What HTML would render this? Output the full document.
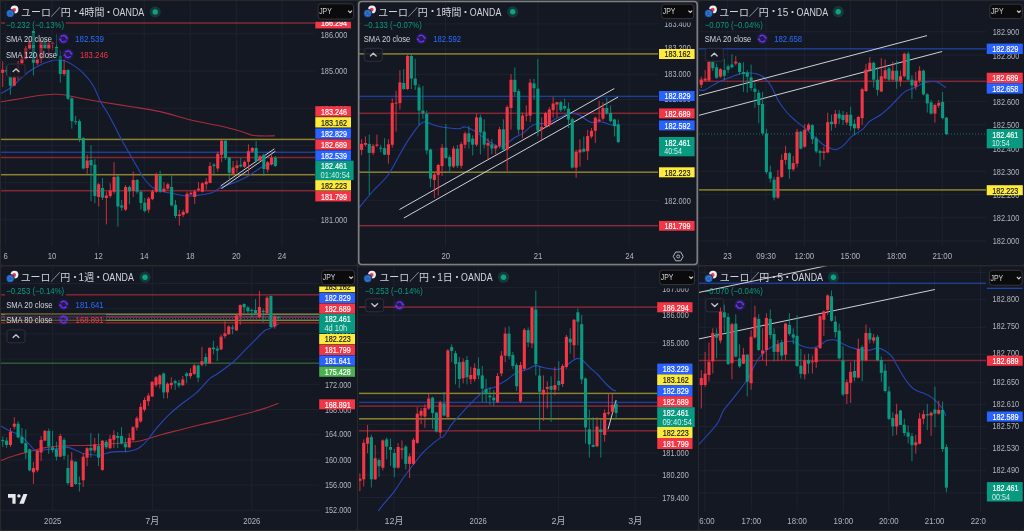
<!DOCTYPE html>
<html><head><meta charset="utf-8"><style>
html,body{margin:0;padding:0;background:#29292b;width:1024px;height:531px;overflow:hidden}
svg{display:block}
text{font-family:'Liberation Sans', 'Noto Sans CJK JP', sans-serif}
</style></head><body>
<svg width="1024" height="531" viewBox="0 0 1024 531">
<rect x="0" y="0" width="1024" height="531" fill="#29292b"/>
<rect x="1" y="1" width="356" height="264" rx="2" fill="#141823"/>
<rect x="358" y="1" width="340" height="264" rx="2" fill="#141823"/>
<rect x="699" y="1" width="325" height="264" rx="2" fill="#141823"/>
<rect x="1" y="266.5" width="356" height="263.5" rx="2" fill="#141823"/>
<rect x="358" y="266.5" width="340" height="263.5" rx="2" fill="#141823"/>
<rect x="699" y="266.5" width="325" height="263.5" rx="2" fill="#141823"/>
<clipPath id="c1"><rect x="1" y="1" width="314" height="245"/></clipPath>
<g clip-path="url(#c1)">
<line x1="1" y1="33.8" x2="315" y2="33.8" stroke="#1e2230" stroke-width="1" opacity="1"/>
<line x1="1" y1="71" x2="315" y2="71" stroke="#1e2230" stroke-width="1" opacity="1"/>
<line x1="1" y1="108.2" x2="315" y2="108.2" stroke="#1e2230" stroke-width="1" opacity="1"/>
<line x1="1" y1="145.4" x2="315" y2="145.4" stroke="#1e2230" stroke-width="1" opacity="1"/>
<line x1="1" y1="182.6" x2="315" y2="182.6" stroke="#1e2230" stroke-width="1" opacity="1"/>
<line x1="1" y1="219.8" x2="315" y2="219.8" stroke="#1e2230" stroke-width="1" opacity="1"/>
<line x1="5.6" y1="1" x2="5.6" y2="246" stroke="#1e2230" stroke-width="1" opacity="1"/>
<line x1="52" y1="1" x2="52" y2="246" stroke="#1e2230" stroke-width="1" opacity="1"/>
<line x1="98.5" y1="1" x2="98.5" y2="246" stroke="#1e2230" stroke-width="1" opacity="1"/>
<line x1="144.2" y1="1" x2="144.2" y2="246" stroke="#1e2230" stroke-width="1" opacity="1"/>
<line x1="190.2" y1="1" x2="190.2" y2="246" stroke="#1e2230" stroke-width="1" opacity="1"/>
<line x1="236.3" y1="1" x2="236.3" y2="246" stroke="#1e2230" stroke-width="1" opacity="1"/>
<line x1="282" y1="1" x2="282" y2="246" stroke="#1e2230" stroke-width="1" opacity="1"/>
<rect x="1" y="22.25" width="314" height="1.5" fill="#f23645" opacity="0.5"/>
<rect x="1" y="138.65" width="314" height="1.5" fill="#ffeb3b" opacity="0.5"/>
<rect x="1" y="151.55" width="314" height="1.5" fill="#2962ff" opacity="0.5"/>
<rect x="1" y="156.75" width="314" height="1.5" fill="#f23645" opacity="0.5"/>
<rect x="1" y="173.95" width="314" height="1.5" fill="#ffeb3b" opacity="0.5"/>
<rect x="1" y="189.95" width="314" height="1.5" fill="#f23645" opacity="0.5"/>
<path d="M1.00,101.80 C4.17,101.28 13.67,99.75 20.00,98.70 C26.33,97.65 33.33,96.23 39.00,95.50 C44.67,94.77 49.83,94.42 54.00,94.30 C58.17,94.18 60.00,94.23 64.00,94.80 C68.00,95.37 72.00,96.55 78.00,97.70 C84.00,98.85 91.33,100.23 100.00,101.70 C108.67,103.17 120.00,104.85 130.00,106.50 C140.00,108.15 149.83,109.35 160.00,111.60 C170.17,113.85 181.50,117.72 191.00,120.00 C200.50,122.28 209.17,123.55 217.00,125.30 C224.83,127.05 232.17,128.85 238.00,130.50 C243.83,132.15 248.00,134.30 252.00,135.20 C256.00,136.10 258.17,135.80 262.00,135.90 C265.83,136.00 272.83,135.82 275.00,135.80" fill="none" stroke="#a82c3a" stroke-width="1.1" opacity="1" stroke-linejoin="round"/>
<path d="M1.00,93.40 C2.47,92.57 6.70,90.70 9.80,88.40 C12.90,86.10 16.33,82.45 19.60,79.60 C22.87,76.75 26.13,73.67 29.40,71.30 C32.67,68.93 35.93,67.03 39.20,65.40 C42.47,63.77 46.37,62.40 49.00,61.50 C51.63,60.60 52.55,60.17 55.00,60.00 C57.45,59.83 60.62,59.60 63.70,60.50 C66.78,61.40 70.23,63.28 73.50,65.40 C76.77,67.52 80.03,69.85 83.30,73.20 C86.57,76.55 90.22,80.73 93.10,85.50 C95.98,90.27 98.28,97.38 100.60,101.80 C102.92,106.22 104.82,108.25 107.00,112.00 C109.18,115.75 111.33,119.80 113.70,124.30 C116.07,128.80 118.55,134.08 121.20,139.00 C123.85,143.92 126.80,148.88 129.60,153.80 C132.40,158.72 135.53,164.30 138.00,168.50 C140.47,172.70 141.93,175.83 144.40,179.00 C146.87,182.17 149.63,185.38 152.80,187.50 C155.97,189.62 159.88,190.65 163.40,191.70 C166.92,192.75 170.03,193.08 173.90,193.80 C177.77,194.52 182.25,195.80 186.60,196.00 C190.95,196.20 195.77,195.53 200.00,195.00 C204.23,194.47 208.52,194.05 212.00,192.80 C215.48,191.55 216.62,189.43 220.90,187.50 C225.18,185.57 233.13,183.13 237.70,181.20 C242.27,179.27 244.78,177.93 248.30,175.90 C251.82,173.87 255.98,170.75 258.80,169.00 C261.62,167.25 262.55,166.37 265.20,165.40 C267.85,164.43 273.12,163.57 274.70,163.20" fill="none" stroke="#2646b8" stroke-width="1.1" opacity="1" stroke-linejoin="round"/>
<line x1="220.6" y1="186.0" x2="274.4" y2="148.8" stroke="#cfd0d4" stroke-width="1"/>
<line x1="221.4" y1="188.6" x2="275.4" y2="151.2" stroke="#cfd0d4" stroke-width="1"/>
<line x1="2.70" y1="61.4" x2="2.70" y2="87" stroke="#f23645" stroke-width="1" opacity="0.8"/>
<rect x="1.15" y="69.7" width="3.1" height="3.10" fill="#f23645"/>
<line x1="6.54" y1="66" x2="6.54" y2="75" stroke="#089981" stroke-width="1" opacity="0.8"/>
<rect x="4.99" y="70" width="3.1" height="1.50" fill="#089981"/>
<line x1="10.38" y1="69.8" x2="10.38" y2="94.8" stroke="#089981" stroke-width="1" opacity="0.8"/>
<rect x="8.83" y="76.7" width="3.1" height="9.00" fill="#089981"/>
<line x1="14.22" y1="72.7" x2="14.22" y2="86" stroke="#f23645" stroke-width="1" opacity="0.8"/>
<rect x="12.67" y="77.2" width="3.1" height="8.50" fill="#f23645"/>
<line x1="18.06" y1="61" x2="18.06" y2="80" stroke="#f23645" stroke-width="1" opacity="0.8"/>
<rect x="16.51" y="65" width="3.1" height="8.00" fill="#f23645"/>
<line x1="21.90" y1="55.8" x2="21.90" y2="65" stroke="#f23645" stroke-width="1" opacity="0.8"/>
<rect x="20.35" y="58.3" width="3.1" height="4.90" fill="#f23645"/>
<line x1="25.74" y1="46" x2="25.74" y2="60" stroke="#f23645" stroke-width="1" opacity="0.8"/>
<rect x="24.19" y="48" width="3.1" height="11.00" fill="#f23645"/>
<line x1="29.58" y1="39" x2="29.58" y2="50" stroke="#f23645" stroke-width="1" opacity="0.8"/>
<rect x="28.03" y="41" width="3.1" height="8.00" fill="#f23645"/>
<line x1="33.42" y1="28" x2="33.42" y2="75.5" stroke="#089981" stroke-width="1" opacity="0.8"/>
<rect x="31.87" y="31" width="3.1" height="31.70" fill="#089981"/>
<line x1="37.26" y1="54" x2="37.26" y2="65" stroke="#f23645" stroke-width="1" opacity="0.8"/>
<rect x="35.71" y="58.8" width="3.1" height="4.40" fill="#f23645"/>
<line x1="41.10" y1="38.7" x2="41.10" y2="63.2" stroke="#f23645" stroke-width="1" opacity="0.8"/>
<rect x="39.55" y="40.6" width="3.1" height="18.70" fill="#f23645"/>
<line x1="44.94" y1="38.7" x2="44.94" y2="49" stroke="#089981" stroke-width="1" opacity="0.8"/>
<rect x="43.39" y="41.1" width="3.1" height="7.40" fill="#089981"/>
<line x1="48.78" y1="41.1" x2="48.78" y2="58.8" stroke="#f23645" stroke-width="1" opacity="0.8"/>
<rect x="47.23" y="43" width="3.1" height="6.00" fill="#f23645"/>
<line x1="52.62" y1="41.6" x2="52.62" y2="50.4" stroke="#f23645" stroke-width="1" opacity="0.8"/>
<rect x="51.07" y="42.6" width="3.1" height="1.40" fill="#f23645"/>
<line x1="56.46" y1="34.3" x2="56.46" y2="56.8" stroke="#089981" stroke-width="1" opacity="0.8"/>
<rect x="54.91" y="47" width="3.1" height="8.80" fill="#089981"/>
<line x1="60.30" y1="50.4" x2="60.30" y2="82.5" stroke="#089981" stroke-width="1" opacity="0.8"/>
<rect x="58.75" y="55.8" width="3.1" height="18.20" fill="#089981"/>
<line x1="64.14" y1="59.3" x2="64.14" y2="76" stroke="#f23645" stroke-width="1" opacity="0.8"/>
<rect x="62.59" y="70" width="3.1" height="4.00" fill="#f23645"/>
<line x1="67.98" y1="69" x2="67.98" y2="100" stroke="#089981" stroke-width="1" opacity="0.8"/>
<rect x="66.43" y="70" width="3.1" height="28.80" fill="#089981"/>
<line x1="71.82" y1="96.9" x2="71.82" y2="128.7" stroke="#089981" stroke-width="1" opacity="0.8"/>
<rect x="70.27" y="98.3" width="3.1" height="22.90" fill="#089981"/>
<line x1="75.66" y1="116" x2="75.66" y2="124.8" stroke="#089981" stroke-width="1" opacity="0.8"/>
<rect x="74.11" y="121.2" width="3.1" height="1.00" fill="#089981"/>
<line x1="79.50" y1="119.4" x2="79.50" y2="142" stroke="#089981" stroke-width="1" opacity="0.8"/>
<rect x="77.95" y="121.2" width="3.1" height="17.30" fill="#089981"/>
<line x1="83.34" y1="137" x2="83.34" y2="169.6" stroke="#089981" stroke-width="1" opacity="0.8"/>
<rect x="81.79" y="138" width="3.1" height="30.50" fill="#089981"/>
<line x1="87.18" y1="154.8" x2="87.18" y2="173.8" stroke="#f23645" stroke-width="1" opacity="0.8"/>
<rect x="85.63" y="160.5" width="3.1" height="7.50" fill="#f23645"/>
<line x1="91.02" y1="145.3" x2="91.02" y2="201.2" stroke="#089981" stroke-width="1" opacity="0.8"/>
<rect x="89.47" y="160" width="3.1" height="5.40" fill="#089981"/>
<line x1="94.86" y1="159" x2="94.86" y2="203.3" stroke="#089981" stroke-width="1" opacity="0.8"/>
<rect x="93.31" y="164.7" width="3.1" height="31.30" fill="#089981"/>
<line x1="98.70" y1="182.9" x2="98.70" y2="206.5" stroke="#f23645" stroke-width="1" opacity="0.8"/>
<rect x="97.15" y="184.3" width="3.1" height="12.70" fill="#f23645"/>
<line x1="102.54" y1="178" x2="102.54" y2="200" stroke="#089981" stroke-width="1" opacity="0.8"/>
<rect x="100.99" y="188" width="3.1" height="9.60" fill="#089981"/>
<line x1="106.38" y1="191.7" x2="106.38" y2="224.4" stroke="#f23645" stroke-width="1" opacity="0.8"/>
<rect x="104.83" y="195.5" width="3.1" height="2.50" fill="#f23645"/>
<line x1="110.22" y1="183.3" x2="110.22" y2="198" stroke="#f23645" stroke-width="1" opacity="0.8"/>
<rect x="108.67" y="190.7" width="3.1" height="5.30" fill="#f23645"/>
<line x1="114.06" y1="162.2" x2="114.06" y2="193.8" stroke="#f23645" stroke-width="1" opacity="0.8"/>
<rect x="112.51" y="177" width="3.1" height="14.70" fill="#f23645"/>
<line x1="117.90" y1="174.9" x2="117.90" y2="226.5" stroke="#089981" stroke-width="1" opacity="0.8"/>
<rect x="116.35" y="176.5" width="3.1" height="30.00" fill="#089981"/>
<line x1="121.74" y1="200" x2="121.74" y2="210.7" stroke="#089981" stroke-width="1" opacity="0.8"/>
<rect x="120.19" y="205.4" width="3.1" height="2.20" fill="#089981"/>
<line x1="125.58" y1="185" x2="125.58" y2="211" stroke="#f23645" stroke-width="1" opacity="0.8"/>
<rect x="124.03" y="187" width="3.1" height="22.70" fill="#f23645"/>
<line x1="129.42" y1="185.4" x2="129.42" y2="204.4" stroke="#089981" stroke-width="1" opacity="0.8"/>
<rect x="127.87" y="187" width="3.1" height="4.30" fill="#089981"/>
<line x1="133.26" y1="171.7" x2="133.26" y2="197" stroke="#f23645" stroke-width="1" opacity="0.8"/>
<rect x="131.71" y="180" width="3.1" height="10.70" fill="#f23645"/>
<line x1="137.10" y1="179" x2="137.10" y2="193.8" stroke="#089981" stroke-width="1" opacity="0.8"/>
<rect x="135.55" y="180" width="3.1" height="11.70" fill="#089981"/>
<line x1="140.94" y1="190.7" x2="140.94" y2="209.7" stroke="#089981" stroke-width="1" opacity="0.8"/>
<rect x="139.39" y="191.7" width="3.1" height="11.30" fill="#089981"/>
<line x1="144.78" y1="198" x2="144.78" y2="212.4" stroke="#089981" stroke-width="1" opacity="0.8"/>
<rect x="143.23" y="202.7" width="3.1" height="8.40" fill="#089981"/>
<line x1="148.62" y1="197" x2="148.62" y2="212.8" stroke="#f23645" stroke-width="1" opacity="0.8"/>
<rect x="147.07" y="198.5" width="3.1" height="11.20" fill="#f23645"/>
<line x1="152.46" y1="189.6" x2="152.46" y2="200.2" stroke="#f23645" stroke-width="1" opacity="0.8"/>
<rect x="150.91" y="191.3" width="3.1" height="7.80" fill="#f23645"/>
<line x1="156.30" y1="172.7" x2="156.30" y2="192.8" stroke="#f23645" stroke-width="1" opacity="0.8"/>
<rect x="154.75" y="174.4" width="3.1" height="17.30" fill="#f23645"/>
<line x1="160.14" y1="170.6" x2="160.14" y2="192.8" stroke="#089981" stroke-width="1" opacity="0.8"/>
<rect x="158.59" y="175.3" width="3.1" height="16.40" fill="#089981"/>
<line x1="163.98" y1="182.2" x2="163.98" y2="192.2" stroke="#f23645" stroke-width="1" opacity="0.8"/>
<rect x="162.43" y="188.6" width="3.1" height="3.10" fill="#f23645"/>
<line x1="167.82" y1="183" x2="167.82" y2="190" stroke="#f23645" stroke-width="1" opacity="0.8"/>
<rect x="166.27" y="184.3" width="3.1" height="4.30" fill="#f23645"/>
<line x1="171.66" y1="175.3" x2="171.66" y2="206.5" stroke="#089981" stroke-width="1" opacity="0.8"/>
<rect x="170.11" y="187" width="3.1" height="18.40" fill="#089981"/>
<line x1="175.50" y1="200" x2="175.50" y2="218.1" stroke="#089981" stroke-width="1" opacity="0.8"/>
<rect x="173.95" y="204.8" width="3.1" height="11.20" fill="#089981"/>
<line x1="179.34" y1="209.7" x2="179.34" y2="225.5" stroke="#f23645" stroke-width="1" opacity="0.8"/>
<rect x="177.79" y="214.5" width="3.1" height="1.50" fill="#f23645"/>
<line x1="183.18" y1="209.7" x2="183.18" y2="217" stroke="#f23645" stroke-width="1" opacity="0.8"/>
<rect x="181.63" y="211.8" width="3.1" height="3.20" fill="#f23645"/>
<line x1="187.02" y1="191.7" x2="187.02" y2="214" stroke="#f23645" stroke-width="1" opacity="0.8"/>
<rect x="185.47" y="193.8" width="3.1" height="19.00" fill="#f23645"/>
<line x1="190.86" y1="191.3" x2="190.86" y2="195" stroke="#f23645" stroke-width="1" opacity="0.8"/>
<rect x="189.31" y="192.8" width="3.1" height="1.50" fill="#f23645"/>
<line x1="194.70" y1="189.6" x2="194.70" y2="204" stroke="#f23645" stroke-width="1" opacity="0.8"/>
<rect x="193.15" y="191.3" width="3.1" height="5.70" fill="#f23645"/>
<line x1="198.54" y1="182.2" x2="198.54" y2="191.7" stroke="#f23645" stroke-width="1" opacity="0.8"/>
<rect x="196.99" y="188.6" width="3.1" height="1.40" fill="#f23645"/>
<line x1="202.38" y1="182.2" x2="202.38" y2="192.5" stroke="#f23645" stroke-width="1" opacity="0.8"/>
<rect x="200.83" y="183.3" width="3.1" height="8.40" fill="#f23645"/>
<line x1="206.22" y1="178" x2="206.22" y2="189.6" stroke="#f23645" stroke-width="1" opacity="0.8"/>
<rect x="204.67" y="181.6" width="3.1" height="2.70" fill="#f23645"/>
<line x1="210.06" y1="162.2" x2="210.06" y2="183.3" stroke="#f23645" stroke-width="1" opacity="0.8"/>
<rect x="208.51" y="166" width="3.1" height="16.90" fill="#f23645"/>
<line x1="213.90" y1="163.2" x2="213.90" y2="174.4" stroke="#089981" stroke-width="1" opacity="0.8"/>
<rect x="212.35" y="164.7" width="3.1" height="1.30" fill="#089981"/>
<line x1="217.74" y1="151.6" x2="217.74" y2="171.7" stroke="#f23645" stroke-width="1" opacity="0.8"/>
<rect x="216.19" y="153.8" width="3.1" height="14.70" fill="#f23645"/>
<line x1="221.58" y1="140" x2="221.58" y2="162.2" stroke="#f23645" stroke-width="1" opacity="0.8"/>
<rect x="220.03" y="140.7" width="3.1" height="14.10" fill="#f23645"/>
<line x1="225.42" y1="140" x2="225.42" y2="160" stroke="#089981" stroke-width="1" opacity="0.8"/>
<rect x="223.87" y="140.7" width="3.1" height="17.30" fill="#089981"/>
<line x1="229.26" y1="156.9" x2="229.26" y2="179" stroke="#089981" stroke-width="1" opacity="0.8"/>
<rect x="227.71" y="157.6" width="3.1" height="15.10" fill="#089981"/>
<line x1="233.10" y1="161" x2="233.10" y2="174.9" stroke="#f23645" stroke-width="1" opacity="0.8"/>
<rect x="231.55" y="167.5" width="3.1" height="6.30" fill="#f23645"/>
<line x1="236.94" y1="160.5" x2="236.94" y2="172.7" stroke="#f23645" stroke-width="1" opacity="0.8"/>
<rect x="235.39" y="165.4" width="3.1" height="2.70" fill="#f23645"/>
<line x1="240.78" y1="158" x2="240.78" y2="167.5" stroke="#089981" stroke-width="1" opacity="0.8"/>
<rect x="239.23" y="164.7" width="3.1" height="1.70" fill="#089981"/>
<line x1="244.62" y1="160.5" x2="244.62" y2="168" stroke="#f23645" stroke-width="1" opacity="0.8"/>
<rect x="243.07" y="161.8" width="3.1" height="5.00" fill="#f23645"/>
<line x1="248.46" y1="144.3" x2="248.46" y2="173.8" stroke="#f23645" stroke-width="1" opacity="0.8"/>
<rect x="246.91" y="151.2" width="3.1" height="10.60" fill="#f23645"/>
<line x1="252.30" y1="147" x2="252.30" y2="153" stroke="#f23645" stroke-width="1" opacity="0.8"/>
<rect x="250.75" y="148" width="3.1" height="3.60" fill="#f23645"/>
<line x1="256.14" y1="141" x2="256.14" y2="162.2" stroke="#089981" stroke-width="1" opacity="0.8"/>
<rect x="254.59" y="148" width="3.1" height="13.10" fill="#089981"/>
<line x1="259.98" y1="155" x2="259.98" y2="161.5" stroke="#f23645" stroke-width="1" opacity="0.8"/>
<rect x="258.43" y="156.3" width="3.1" height="4.20" fill="#f23645"/>
<line x1="263.82" y1="153.8" x2="263.82" y2="175.9" stroke="#089981" stroke-width="1" opacity="0.8"/>
<rect x="262.27" y="154.8" width="3.1" height="14.20" fill="#089981"/>
<line x1="267.66" y1="161" x2="267.66" y2="172.5" stroke="#f23645" stroke-width="1" opacity="0.8"/>
<rect x="266.11" y="162.2" width="3.1" height="7.40" fill="#f23645"/>
<line x1="271.50" y1="155" x2="271.50" y2="165.5" stroke="#f23645" stroke-width="1" opacity="0.8"/>
<rect x="269.95" y="157.6" width="3.1" height="6.70" fill="#f23645"/>
<line x1="275.34" y1="156" x2="275.34" y2="167" stroke="#089981" stroke-width="1" opacity="0.8"/>
<rect x="273.79" y="157.6" width="3.1" height="8.40" fill="#089981"/>
<rect x="5" y="20" width="61" height="10" fill="#141823" opacity="0.92"/>
<text x="6" y="28.3" font-size="9" fill="#0b9b80" text-anchor="start" textLength="58" lengthAdjust="spacingAndGlyphs" >−0.232 (−0.13%)</text>
<rect x="5" y="33" width="103" height="12" fill="#141823" opacity="0.45"/>
<text x="6" y="42.3" font-size="9" fill="#d1d4dc" text-anchor="start" textLength="46" lengthAdjust="spacingAndGlyphs" >SMA 20 close</text>
<circle cx="63.5" cy="38.8" r="5.6" fill="#5a2ae0" opacity="0.22"/>
<path d="M60.8,36.9 A3.3,3.3 0 0 1 66.7,38.0" fill="none" stroke="#6c30f2" stroke-width="1.4"/>
<path d="M66.2,40.699999999999996 A3.3,3.3 0 0 1 60.3,39.599999999999994" fill="none" stroke="#6c30f2" stroke-width="1.4"/>
<path d="M65.3,37.599999999999994 L68.3,37.4 L66.9,39.8 Z" fill="#6c30f2"/>
<path d="M61.7,40.0 L58.7,40.199999999999996 L60.1,37.8 Z" fill="#6c30f2"/>
<text x="75" y="42.3" font-size="9" fill="#2e6bff" text-anchor="start" textLength="29" lengthAdjust="spacingAndGlyphs" >182.539</text>
<rect x="5" y="48" width="107" height="12" fill="#141823" opacity="0.45"/>
<text x="6" y="57.8" font-size="9" fill="#d1d4dc" text-anchor="start" textLength="51" lengthAdjust="spacingAndGlyphs" >SMA 120 close</text>
<circle cx="68" cy="54.3" r="5.6" fill="#5a2ae0" opacity="0.22"/>
<path d="M65.3,52.4 A3.3,3.3 0 0 1 71.2,53.5" fill="none" stroke="#6c30f2" stroke-width="1.4"/>
<path d="M70.7,56.199999999999996 A3.3,3.3 0 0 1 64.8,55.099999999999994" fill="none" stroke="#6c30f2" stroke-width="1.4"/>
<path d="M69.8,53.099999999999994 L72.8,52.9 L71.4,55.3 Z" fill="#6c30f2"/>
<path d="M66.2,55.5 L63.2,55.699999999999996 L64.6,53.3 Z" fill="#6c30f2"/>
<text x="80" y="57.8" font-size="9" fill="#f23645" text-anchor="start" textLength="28" lengthAdjust="spacingAndGlyphs" >183.246</text>
<rect x="7.0" y="64.0" width="18" height="13" rx="2.5" fill="#141823" fill-opacity="0.85" stroke="#2f3139" stroke-width="1"/>
<path d="M13.1,71.6 L16.0,69.0 L18.9,71.6" fill="none" stroke="#c4c6cc" stroke-width="1.4" stroke-linecap="round" stroke-linejoin="round"/>
</g>
<circle cx="14.5" cy="9.5" r="3.9" fill="#f0f0f0"/>
<circle cx="14.2" cy="9.8" r="1.9" fill="#f23645"/>
<circle cx="10.2" cy="13.5" r="4.1" fill="#1e63c8" stroke="#141823" stroke-width="0.8"/>
<circle cx="10.2" cy="13.5" r="2.2" fill="none" stroke="#d7c84a" stroke-width="0.6" stroke-dasharray="0.6 0.8" opacity="0.8"/>
<text x="21.1" y="16.0" font-size="10.4" fill="#d1d4dc" text-anchor="start" textLength="49.6" lengthAdjust="spacingAndGlyphs" >ユーロ／円</text>
<text x="75.4" y="15.4" font-size="10" fill="#d1d4dc" text-anchor="middle" >・</text>
<text x="79.0" y="16.0" font-size="10.4" fill="#d1d4dc" text-anchor="start" textLength="25.4" lengthAdjust="spacingAndGlyphs" >4時間</text>
<text x="108.5" y="15.7" font-size="10" fill="#d1d4dc" text-anchor="middle" >・</text>
<text x="112.7" y="16.0" font-size="10.4" fill="#d1d4dc" text-anchor="start" textLength="31.5" lengthAdjust="spacingAndGlyphs" >OANDA</text>
<circle cx="155.2" cy="11.9" r="5.6" fill="#15393a"/>
<circle cx="155.2" cy="11.9" r="2.7" fill="#0ca283"/>
<text x="334" y="37.5" font-size="9" fill="#b2b5be" text-anchor="middle" textLength="26.5" lengthAdjust="spacingAndGlyphs" >186.000</text>
<text x="334" y="74.0" font-size="9" fill="#b2b5be" text-anchor="middle" textLength="26.5" lengthAdjust="spacingAndGlyphs" >185.000</text>
<text x="334" y="111.60000000000001" font-size="9" fill="#b2b5be" text-anchor="middle" textLength="26.5" lengthAdjust="spacingAndGlyphs" >184.000</text>
<text x="334" y="148.89999999999998" font-size="9" fill="#b2b5be" text-anchor="middle" textLength="26.5" lengthAdjust="spacingAndGlyphs" >183.000</text>
<text x="334" y="186.2" font-size="9" fill="#b2b5be" text-anchor="middle" textLength="26.5" lengthAdjust="spacingAndGlyphs" >182.000</text>
<text x="334" y="222.5" font-size="9" fill="#b2b5be" text-anchor="middle" textLength="26.5" lengthAdjust="spacingAndGlyphs" >181.000</text>
<rect x="315.3" y="17.9" width="35.69999999999999" height="10.5" fill="#f23645"/>
<text x="320.90000000000003" y="26.45" font-size="9" fill="#ffffff" text-anchor="start" textLength="26" lengthAdjust="spacingAndGlyphs" stroke="#ffffff" stroke-width="0.18">186.294</text>
<rect x="315.3" y="106.2" width="35.69999999999999" height="10.399999999999991" fill="#f23645"/>
<text x="320.90000000000003" y="114.7" font-size="9" fill="#ffffff" text-anchor="start" textLength="26" lengthAdjust="spacingAndGlyphs" stroke="#ffffff" stroke-width="0.18">183.246</text>
<rect x="315.3" y="117.2" width="35.69999999999999" height="10.299999999999997" fill="#ffeb3b"/>
<text x="320.90000000000003" y="125.64999999999999" font-size="9" fill="#131722" text-anchor="start" textLength="26" lengthAdjust="spacingAndGlyphs" stroke="#131722" stroke-width="0.18">183.162</text>
<rect x="315.3" y="128.4" width="35.69999999999999" height="10.299999999999983" fill="#2962ff"/>
<text x="320.90000000000003" y="136.85000000000002" font-size="9" fill="#ffffff" text-anchor="start" textLength="26" lengthAdjust="spacingAndGlyphs" stroke="#ffffff" stroke-width="0.18">182.829</text>
<rect x="315.3" y="139.3" width="35.69999999999999" height="10.399999999999977" fill="#f23645"/>
<text x="320.90000000000003" y="147.8" font-size="9" fill="#ffffff" text-anchor="start" textLength="26" lengthAdjust="spacingAndGlyphs" stroke="#ffffff" stroke-width="0.18">182.689</text>
<rect x="315.3" y="150.3" width="35.69999999999999" height="10.399999999999977" fill="#2962ff"/>
<text x="320.90000000000003" y="158.8" font-size="9" fill="#ffffff" text-anchor="start" textLength="26" lengthAdjust="spacingAndGlyphs" stroke="#ffffff" stroke-width="0.18">182.539</text>
<rect x="315.3" y="180.1" width="35.69999999999999" height="10.400000000000006" fill="#ffeb3b"/>
<text x="320.90000000000003" y="188.60000000000002" font-size="9" fill="#131722" text-anchor="start" textLength="26" lengthAdjust="spacingAndGlyphs" stroke="#131722" stroke-width="0.18">182.223</text>
<rect x="315.3" y="191" width="35.69999999999999" height="10.400000000000006" fill="#f23645"/>
<text x="320.90000000000003" y="199.5" font-size="9" fill="#ffffff" text-anchor="start" textLength="26" lengthAdjust="spacingAndGlyphs" stroke="#ffffff" stroke-width="0.18">181.799</text>
<rect x="315.3" y="160.7" width="38.30000000000001" height="19.400000000000006" fill="#089981"/>
<text x="320.90000000000003" y="169.3" font-size="9" fill="#ffffff" text-anchor="start" textLength="26" lengthAdjust="spacingAndGlyphs" stroke="#ffffff" stroke-width="0.18">182.461</text>
<text x="320.50000000000006" y="178.1" font-size="9" fill="#ffffff" fill-opacity="0.82" textLength="29.6" lengthAdjust="spacingAndGlyphs">01:40:54</text>
<rect x="315" y="1" width="42" height="20.8" fill="#141823"/>
<rect x="318.1" y="3.8" width="35.39999999999998" height="15.3" rx="3" fill="#0b0b0c" stroke="#34363d" stroke-width="1"/>
<text x="319.20000000000005" y="14.450000000000001" font-size="9" fill="#d1d4dc" text-anchor="start" textLength="12.6" lengthAdjust="spacingAndGlyphs" >JPY</text>
<path d="M348.2,10.65 L350.1,12.55 L352.0,10.65" fill="none" stroke="#d1d4dc" stroke-width="1.2"/>
<text x="5.6" y="258.9" font-size="9" fill="#b2b5be" text-anchor="middle" textLength="4.3" lengthAdjust="spacingAndGlyphs" >6</text>
<text x="52" y="258.9" font-size="9" fill="#b2b5be" text-anchor="middle" textLength="8.6" lengthAdjust="spacingAndGlyphs" >10</text>
<text x="98.5" y="258.9" font-size="9" fill="#b2b5be" text-anchor="middle" textLength="8.6" lengthAdjust="spacingAndGlyphs" >12</text>
<text x="144.2" y="258.9" font-size="9" fill="#b2b5be" text-anchor="middle" textLength="8.6" lengthAdjust="spacingAndGlyphs" >14</text>
<text x="190.2" y="258.9" font-size="9" fill="#b2b5be" text-anchor="middle" textLength="8.6" lengthAdjust="spacingAndGlyphs" >18</text>
<text x="236.3" y="258.9" font-size="9" fill="#b2b5be" text-anchor="middle" textLength="8.6" lengthAdjust="spacingAndGlyphs" >20</text>
<text x="282" y="258.9" font-size="9" fill="#b2b5be" text-anchor="middle" textLength="8.6" lengthAdjust="spacingAndGlyphs" >24</text>
<clipPath id="c2"><rect x="359" y="2" width="299" height="244"/></clipPath>
<g clip-path="url(#c2)">
<line x1="359" y1="23.9" x2="658" y2="23.9" stroke="#1e2230" stroke-width="1" opacity="1"/>
<line x1="359" y1="49.1" x2="658" y2="49.1" stroke="#1e2230" stroke-width="1" opacity="1"/>
<line x1="359" y1="74.3" x2="658" y2="74.3" stroke="#1e2230" stroke-width="1" opacity="1"/>
<line x1="359" y1="99.5" x2="658" y2="99.5" stroke="#1e2230" stroke-width="1" opacity="1"/>
<line x1="359" y1="124.7" x2="658" y2="124.7" stroke="#1e2230" stroke-width="1" opacity="1"/>
<line x1="359" y1="149.9" x2="658" y2="149.9" stroke="#1e2230" stroke-width="1" opacity="1"/>
<line x1="359" y1="175.1" x2="658" y2="175.1" stroke="#1e2230" stroke-width="1" opacity="1"/>
<line x1="359" y1="200.3" x2="658" y2="200.3" stroke="#1e2230" stroke-width="1" opacity="1"/>
<line x1="359" y1="225.5" x2="658" y2="225.5" stroke="#1e2230" stroke-width="1" opacity="1"/>
<line x1="445.5" y1="2" x2="445.5" y2="246" stroke="#1e2230" stroke-width="1" opacity="1"/>
<line x1="538" y1="2" x2="538" y2="246" stroke="#1e2230" stroke-width="1" opacity="1"/>
<line x1="629.2" y1="2" x2="629.2" y2="246" stroke="#1e2230" stroke-width="1" opacity="1"/>
<rect x="359" y="53.15" width="299" height="1.5" fill="#ffeb3b" opacity="0.5"/>
<rect x="359" y="95.65" width="299" height="1.5" fill="#2962ff" opacity="0.5"/>
<rect x="359" y="112.55" width="299" height="1.5" fill="#f23645" opacity="0.5"/>
<rect x="359" y="171.45" width="299" height="1.5" fill="#ffeb3b" opacity="0.5"/>
<rect x="359" y="224.95" width="299" height="1.5" fill="#f23645" opacity="0.5"/>
<path d="M358.00,209.00 C360.52,206.00 368.08,196.67 373.10,191.00 C378.12,185.33 383.72,180.97 388.10,175.00 C392.48,169.03 395.63,161.63 399.40,155.20 C403.17,148.77 406.77,141.90 410.70,136.40 C414.63,130.90 418.60,123.93 423.00,122.20 C427.40,120.47 431.27,124.90 437.10,126.00 C442.93,127.10 453.45,128.65 458.00,128.80 C462.55,128.95 461.77,126.60 464.40,126.90 C467.03,127.20 470.67,128.88 473.80,130.60 C476.93,132.32 480.05,135.00 483.20,137.20 C486.35,139.40 489.87,142.23 492.70,143.80 C495.53,145.37 497.70,146.75 500.20,146.60 C502.70,146.45 505.18,144.47 507.70,142.90 C510.22,141.33 512.78,138.78 515.30,137.20 C517.82,135.62 520.30,135.12 522.80,133.40 C525.30,131.68 528.10,128.47 530.30,126.90 C532.50,125.33 533.80,124.57 536.00,124.00 C538.20,123.43 541.30,123.75 543.50,123.50 C545.70,123.25 547.28,123.20 549.20,122.50 C551.12,121.80 552.57,120.48 555.00,119.30 C557.43,118.12 561.23,116.37 563.80,115.40 C566.37,114.43 567.88,113.60 570.40,113.50 C572.92,113.40 576.55,113.95 578.90,114.80 C581.25,115.65 582.47,117.33 584.50,118.60 C586.53,119.87 588.58,121.87 591.10,122.40 C593.62,122.93 597.23,121.72 599.60,121.80 C601.97,121.88 603.42,122.40 605.30,122.90 C607.18,123.40 609.33,124.42 610.90,124.80 C612.47,125.18 613.35,125.00 614.70,125.20 C616.05,125.40 618.28,125.87 619.00,126.00" fill="none" stroke="#2646b8" stroke-width="1.1" opacity="1" stroke-linejoin="round"/>
<line x1="399.5" y1="209.5" x2="614.3" y2="88.5" stroke="#cfd0d4" stroke-width="1"/>
<line x1="403.8" y1="218" x2="618.1" y2="97" stroke="#cfd0d4" stroke-width="1"/>
<line x1="361.60" y1="139.2" x2="361.60" y2="155.2" stroke="#f23645" stroke-width="1" opacity="0.8"/>
<rect x="360.05" y="143.9" width="3.1" height="6.00" fill="#f23645"/>
<line x1="365.43" y1="136.4" x2="365.43" y2="146.7" stroke="#f23645" stroke-width="1" opacity="0.8"/>
<rect x="363.88" y="143" width="3.1" height="1.80" fill="#f23645"/>
<line x1="369.26" y1="134.5" x2="369.26" y2="194.7" stroke="#089981" stroke-width="1" opacity="0.8"/>
<rect x="367.71" y="143.9" width="3.1" height="9.00" fill="#089981"/>
<line x1="373.09" y1="143.9" x2="373.09" y2="155.2" stroke="#f23645" stroke-width="1" opacity="0.8"/>
<rect x="371.54" y="145.8" width="3.1" height="7.10" fill="#f23645"/>
<line x1="376.92" y1="134.5" x2="376.92" y2="147.3" stroke="#f23645" stroke-width="1" opacity="0.8"/>
<rect x="375.37" y="144.5" width="3.1" height="1.30" fill="#f23645"/>
<line x1="380.75" y1="144.8" x2="380.75" y2="152.4" stroke="#089981" stroke-width="1" opacity="0.8"/>
<rect x="379.20" y="147.7" width="3.1" height="1.00" fill="#089981"/>
<line x1="384.59" y1="138.2" x2="384.59" y2="155.2" stroke="#089981" stroke-width="1" opacity="0.8"/>
<rect x="383.04" y="148.2" width="3.1" height="6.40" fill="#089981"/>
<line x1="388.42" y1="139.2" x2="388.42" y2="163.7" stroke="#f23645" stroke-width="1" opacity="0.8"/>
<rect x="386.87" y="144.3" width="3.1" height="10.50" fill="#f23645"/>
<line x1="392.25" y1="98.4" x2="392.25" y2="147.7" stroke="#f23645" stroke-width="1" opacity="0.8"/>
<rect x="390.70" y="103" width="3.1" height="41.80" fill="#f23645"/>
<line x1="396.08" y1="90.8" x2="396.08" y2="131.7" stroke="#f23645" stroke-width="1" opacity="0.8"/>
<rect x="394.53" y="102.6" width="3.1" height="1.00" fill="#f23645"/>
<line x1="399.91" y1="70.1" x2="399.91" y2="109.7" stroke="#f23645" stroke-width="1" opacity="0.8"/>
<rect x="398.36" y="82.4" width="3.1" height="20.70" fill="#f23645"/>
<line x1="403.74" y1="69.2" x2="403.74" y2="89.9" stroke="#089981" stroke-width="1" opacity="0.8"/>
<rect x="402.19" y="83" width="3.1" height="6.00" fill="#089981"/>
<line x1="407.57" y1="55" x2="407.57" y2="90" stroke="#f23645" stroke-width="1" opacity="0.8"/>
<rect x="406.02" y="56" width="3.1" height="33.00" fill="#f23645"/>
<line x1="411.40" y1="54" x2="411.40" y2="89" stroke="#089981" stroke-width="1" opacity="0.8"/>
<rect x="409.85" y="56" width="3.1" height="22.60" fill="#089981"/>
<line x1="415.23" y1="58.8" x2="415.23" y2="90" stroke="#089981" stroke-width="1" opacity="0.8"/>
<rect x="413.68" y="78.6" width="3.1" height="6.60" fill="#089981"/>
<line x1="419.06" y1="84.3" x2="419.06" y2="125" stroke="#089981" stroke-width="1" opacity="0.8"/>
<rect x="417.51" y="87.5" width="3.1" height="23.10" fill="#089981"/>
<line x1="422.90" y1="86" x2="422.90" y2="119" stroke="#089981" stroke-width="1" opacity="0.8"/>
<rect x="421.35" y="110.6" width="3.1" height="2.80" fill="#089981"/>
<line x1="426.73" y1="110.6" x2="426.73" y2="154.3" stroke="#089981" stroke-width="1" opacity="0.8"/>
<rect x="425.18" y="113.8" width="3.1" height="36.70" fill="#089981"/>
<line x1="430.56" y1="148.6" x2="430.56" y2="187.2" stroke="#089981" stroke-width="1" opacity="0.8"/>
<rect x="429.01" y="149.5" width="3.1" height="29.20" fill="#089981"/>
<line x1="434.39" y1="173.1" x2="434.39" y2="198.1" stroke="#f23645" stroke-width="1" opacity="0.8"/>
<rect x="432.84" y="174.4" width="3.1" height="5.60" fill="#f23645"/>
<line x1="438.22" y1="163.7" x2="438.22" y2="195.7" stroke="#f23645" stroke-width="1" opacity="0.8"/>
<rect x="436.67" y="165" width="3.1" height="10.00" fill="#f23645"/>
<line x1="442.05" y1="143.9" x2="442.05" y2="175.9" stroke="#f23645" stroke-width="1" opacity="0.8"/>
<rect x="440.50" y="147.7" width="3.1" height="18.40" fill="#f23645"/>
<line x1="445.88" y1="124.1" x2="445.88" y2="159" stroke="#089981" stroke-width="1" opacity="0.8"/>
<rect x="444.33" y="147.7" width="3.1" height="10.30" fill="#089981"/>
<line x1="449.71" y1="155.2" x2="449.71" y2="173.1" stroke="#089981" stroke-width="1" opacity="0.8"/>
<rect x="448.16" y="157.1" width="3.1" height="9.40" fill="#089981"/>
<line x1="453.54" y1="146" x2="453.54" y2="168" stroke="#f23645" stroke-width="1" opacity="0.8"/>
<rect x="451.99" y="148.6" width="3.1" height="17.90" fill="#f23645"/>
<line x1="457.38" y1="145" x2="457.38" y2="168" stroke="#089981" stroke-width="1" opacity="0.8"/>
<rect x="455.82" y="148.7" width="3.1" height="17.10" fill="#089981"/>
<line x1="461.21" y1="141.9" x2="461.21" y2="168.6" stroke="#f23645" stroke-width="1" opacity="0.8"/>
<rect x="459.66" y="144.1" width="3.1" height="21.70" fill="#f23645"/>
<line x1="465.04" y1="131.6" x2="465.04" y2="148.5" stroke="#f23645" stroke-width="1" opacity="0.8"/>
<rect x="463.49" y="133.4" width="3.1" height="11.30" fill="#f23645"/>
<line x1="468.87" y1="125.9" x2="468.87" y2="148.5" stroke="#089981" stroke-width="1" opacity="0.8"/>
<rect x="467.32" y="133.4" width="3.1" height="8.50" fill="#089981"/>
<line x1="472.70" y1="135.3" x2="472.70" y2="155.4" stroke="#089981" stroke-width="1" opacity="0.8"/>
<rect x="471.15" y="138.7" width="3.1" height="6.00" fill="#089981"/>
<line x1="476.53" y1="113.7" x2="476.53" y2="146.6" stroke="#f23645" stroke-width="1" opacity="0.8"/>
<rect x="474.98" y="117.4" width="3.1" height="27.30" fill="#f23645"/>
<line x1="480.36" y1="114.6" x2="480.36" y2="154.5" stroke="#089981" stroke-width="1" opacity="0.8"/>
<rect x="478.81" y="117.4" width="3.1" height="15.10" fill="#089981"/>
<line x1="484.19" y1="119.3" x2="484.19" y2="148.5" stroke="#089981" stroke-width="1" opacity="0.8"/>
<rect x="482.64" y="131.6" width="3.1" height="13.10" fill="#089981"/>
<line x1="488.02" y1="138.2" x2="488.02" y2="159.2" stroke="#f23645" stroke-width="1" opacity="0.8"/>
<rect x="486.47" y="142.9" width="3.1" height="2.80" fill="#f23645"/>
<line x1="491.85" y1="139.1" x2="491.85" y2="154.2" stroke="#089981" stroke-width="1" opacity="0.8"/>
<rect x="490.30" y="144.4" width="3.1" height="4.10" fill="#089981"/>
<line x1="495.69" y1="144.7" x2="495.69" y2="154.2" stroke="#f23645" stroke-width="1" opacity="0.8"/>
<rect x="494.14" y="145.7" width="3.1" height="2.80" fill="#f23645"/>
<line x1="499.52" y1="126.9" x2="499.52" y2="148.5" stroke="#f23645" stroke-width="1" opacity="0.8"/>
<rect x="497.97" y="129.3" width="3.1" height="16.40" fill="#f23645"/>
<line x1="503.35" y1="119.3" x2="503.35" y2="150.4" stroke="#089981" stroke-width="1" opacity="0.8"/>
<rect x="501.80" y="129.3" width="3.1" height="20.20" fill="#089981"/>
<line x1="507.18" y1="105.2" x2="507.18" y2="171.4" stroke="#f23645" stroke-width="1" opacity="0.8"/>
<rect x="505.63" y="107.1" width="3.1" height="42.40" fill="#f23645"/>
<line x1="511.01" y1="74.1" x2="511.01" y2="129.7" stroke="#f23645" stroke-width="1" opacity="0.8"/>
<rect x="509.46" y="79.8" width="3.1" height="28.20" fill="#f23645"/>
<line x1="514.84" y1="67.5" x2="514.84" y2="95.8" stroke="#089981" stroke-width="1" opacity="0.8"/>
<rect x="513.29" y="79.8" width="3.1" height="12.20" fill="#089981"/>
<line x1="518.67" y1="89.2" x2="518.67" y2="134.4" stroke="#089981" stroke-width="1" opacity="0.8"/>
<rect x="517.12" y="91.1" width="3.1" height="38.60" fill="#089981"/>
<line x1="522.50" y1="112.7" x2="522.50" y2="138.2" stroke="#f23645" stroke-width="1" opacity="0.8"/>
<rect x="520.95" y="115.6" width="3.1" height="14.10" fill="#f23645"/>
<line x1="526.33" y1="105.2" x2="526.33" y2="121.2" stroke="#f23645" stroke-width="1" opacity="0.8"/>
<rect x="524.78" y="114.6" width="3.1" height="1.00" fill="#f23645"/>
<line x1="530.16" y1="78.8" x2="530.16" y2="122.1" stroke="#f23645" stroke-width="1" opacity="0.8"/>
<rect x="528.61" y="82.6" width="3.1" height="33.00" fill="#f23645"/>
<line x1="534.00" y1="78.8" x2="534.00" y2="99.5" stroke="#089981" stroke-width="1" opacity="0.8"/>
<rect x="532.45" y="83.5" width="3.1" height="4.70" fill="#089981"/>
<line x1="537.83" y1="59" x2="537.83" y2="136.3" stroke="#089981" stroke-width="1" opacity="0.8"/>
<rect x="536.28" y="88.6" width="3.1" height="42.00" fill="#089981"/>
<line x1="541.66" y1="117.4" x2="541.66" y2="140" stroke="#f23645" stroke-width="1" opacity="0.8"/>
<rect x="540.11" y="126.9" width="3.1" height="2.80" fill="#f23645"/>
<line x1="545.49" y1="111.8" x2="545.49" y2="127.8" stroke="#f23645" stroke-width="1" opacity="0.8"/>
<rect x="543.94" y="113" width="3.1" height="13.00" fill="#f23645"/>
<line x1="549.32" y1="107" x2="549.32" y2="127" stroke="#f23645" stroke-width="1" opacity="0.8"/>
<rect x="547.77" y="109.5" width="3.1" height="15.50" fill="#f23645"/>
<line x1="553.15" y1="97" x2="553.15" y2="117.7" stroke="#f23645" stroke-width="1" opacity="0.8"/>
<rect x="551.60" y="103.5" width="3.1" height="6.60" fill="#f23645"/>
<line x1="556.98" y1="101.7" x2="556.98" y2="117.7" stroke="#f23645" stroke-width="1" opacity="0.8"/>
<rect x="555.43" y="102.2" width="3.1" height="2.30" fill="#f23645"/>
<line x1="560.81" y1="100.7" x2="560.81" y2="112" stroke="#089981" stroke-width="1" opacity="0.8"/>
<rect x="559.26" y="102.2" width="3.1" height="7.90" fill="#089981"/>
<line x1="564.64" y1="98.5" x2="564.64" y2="111.1" stroke="#089981" stroke-width="1" opacity="0.8"/>
<rect x="563.09" y="106" width="3.1" height="2.60" fill="#089981"/>
<line x1="568.47" y1="102.6" x2="568.47" y2="128" stroke="#089981" stroke-width="1" opacity="0.8"/>
<rect x="566.92" y="108.6" width="3.1" height="10.90" fill="#089981"/>
<line x1="572.31" y1="117.7" x2="572.31" y2="168.5" stroke="#089981" stroke-width="1" opacity="0.8"/>
<rect x="570.76" y="119.2" width="3.1" height="48.40" fill="#089981"/>
<line x1="576.14" y1="149.7" x2="576.14" y2="177.9" stroke="#f23645" stroke-width="1" opacity="0.8"/>
<rect x="574.59" y="151.6" width="3.1" height="16.00" fill="#f23645"/>
<line x1="579.97" y1="139.3" x2="579.97" y2="166.6" stroke="#f23645" stroke-width="1" opacity="0.8"/>
<rect x="578.42" y="149.7" width="3.1" height="2.80" fill="#f23645"/>
<line x1="583.80" y1="136.5" x2="583.80" y2="152.5" stroke="#089981" stroke-width="1" opacity="0.8"/>
<rect x="582.25" y="148.7" width="3.1" height="2.90" fill="#089981"/>
<line x1="587.63" y1="129.9" x2="587.63" y2="160" stroke="#f23645" stroke-width="1" opacity="0.8"/>
<rect x="586.08" y="136.1" width="3.1" height="15.10" fill="#f23645"/>
<line x1="591.46" y1="128" x2="591.46" y2="138.4" stroke="#f23645" stroke-width="1" opacity="0.8"/>
<rect x="589.91" y="130.8" width="3.1" height="5.70" fill="#f23645"/>
<line x1="595.29" y1="116.7" x2="595.29" y2="143.1" stroke="#f23645" stroke-width="1" opacity="0.8"/>
<rect x="593.74" y="117.7" width="3.1" height="13.10" fill="#f23645"/>
<line x1="599.12" y1="100.7" x2="599.12" y2="122.4" stroke="#f23645" stroke-width="1" opacity="0.8"/>
<rect x="597.57" y="119.5" width="3.1" height="1.60" fill="#f23645"/>
<line x1="602.95" y1="102.2" x2="602.95" y2="120.5" stroke="#f23645" stroke-width="1" opacity="0.8"/>
<rect x="601.40" y="107.9" width="3.1" height="10.70" fill="#f23645"/>
<line x1="606.78" y1="97.9" x2="606.78" y2="114.8" stroke="#089981" stroke-width="1" opacity="0.8"/>
<rect x="605.23" y="107.9" width="3.1" height="5.60" fill="#089981"/>
<line x1="610.62" y1="105.4" x2="610.62" y2="122.4" stroke="#089981" stroke-width="1" opacity="0.8"/>
<rect x="609.07" y="113" width="3.1" height="8.10" fill="#089981"/>
<line x1="614.45" y1="118.6" x2="614.45" y2="136.5" stroke="#089981" stroke-width="1" opacity="0.8"/>
<rect x="612.90" y="119.5" width="3.1" height="6.60" fill="#089981"/>
<line x1="618.28" y1="119.5" x2="618.28" y2="143.1" stroke="#089981" stroke-width="1" opacity="0.8"/>
<rect x="616.73" y="124.3" width="3.1" height="17.80" fill="#089981"/>
<rect x="362" y="20" width="62" height="10" fill="#141823" opacity="0.92"/>
<text x="363.8" y="28.3" font-size="9" fill="#0b9b80" text-anchor="start" textLength="58" lengthAdjust="spacingAndGlyphs" >−0.133 (−0.07%)</text>
<rect x="362" y="33" width="103" height="12" fill="#141823" opacity="0.45"/>
<text x="363.8" y="42" font-size="9" fill="#d1d4dc" text-anchor="start" textLength="46.4" lengthAdjust="spacingAndGlyphs" >SMA 20 close</text>
<circle cx="421.3" cy="38.6" r="5.6" fill="#5a2ae0" opacity="0.22"/>
<path d="M418.6,36.7 A3.3,3.3 0 0 1 424.5,37.800000000000004" fill="none" stroke="#6c30f2" stroke-width="1.4"/>
<path d="M424.0,40.5 A3.3,3.3 0 0 1 418.1,39.4" fill="none" stroke="#6c30f2" stroke-width="1.4"/>
<path d="M423.1,37.4 L426.1,37.2 L424.7,39.6 Z" fill="#6c30f2"/>
<path d="M419.5,39.800000000000004 L416.5,40.0 L417.90000000000003,37.6 Z" fill="#6c30f2"/>
<text x="433.2" y="42" font-size="9" fill="#2e6bff" text-anchor="start" textLength="28" lengthAdjust="spacingAndGlyphs" >182.592</text>
<rect x="364.3" y="48.3" width="18" height="13" rx="2.5" fill="#141823" fill-opacity="0.85" stroke="#2f3139" stroke-width="1"/>
<path d="M370.40000000000003,55.9 L373.3,53.3 L376.2,55.9" fill="none" stroke="#c4c6cc" stroke-width="1.4" stroke-linecap="round" stroke-linejoin="round"/>
</g>
<circle cx="372.0" cy="9.4" r="3.9" fill="#f0f0f0"/>
<circle cx="371.7" cy="9.7" r="1.9" fill="#f23645"/>
<circle cx="367.7" cy="13.4" r="4.1" fill="#1e63c8" stroke="#141823" stroke-width="0.8"/>
<circle cx="367.7" cy="13.4" r="2.2" fill="none" stroke="#d7c84a" stroke-width="0.6" stroke-dasharray="0.6 0.8" opacity="0.8"/>
<text x="378.2" y="15.8" font-size="10.4" fill="#d1d4dc" text-anchor="start" textLength="49.6" lengthAdjust="spacingAndGlyphs" >ユーロ／円</text>
<text x="432.5" y="15.200000000000001" font-size="10" fill="#d1d4dc" text-anchor="middle" >・</text>
<text x="436.1" y="15.8" font-size="10.4" fill="#d1d4dc" text-anchor="start" textLength="25.4" lengthAdjust="spacingAndGlyphs" >1時間</text>
<text x="465.6" y="15.5" font-size="10" fill="#d1d4dc" text-anchor="middle" >・</text>
<text x="469.8" y="15.8" font-size="10.4" fill="#d1d4dc" text-anchor="start" textLength="31.5" lengthAdjust="spacingAndGlyphs" >OANDA</text>
<circle cx="512.7" cy="11.7" r="5.6" fill="#15393a"/>
<circle cx="512.7" cy="11.7" r="2.7" fill="#0ca283"/>
<text x="677.5" y="26.9" font-size="9" fill="#b2b5be" text-anchor="middle" textLength="26.5" lengthAdjust="spacingAndGlyphs" >183.400</text>
<text x="677.5" y="50.900000000000006" font-size="9" fill="#b2b5be" text-anchor="middle" textLength="26.5" lengthAdjust="spacingAndGlyphs" >183.200</text>
<text x="677.5" y="76.60000000000001" font-size="9" fill="#b2b5be" text-anchor="middle" textLength="26.5" lengthAdjust="spacingAndGlyphs" >183.000</text>
<text x="677.5" y="102.10000000000001" font-size="9" fill="#b2b5be" text-anchor="middle" textLength="26.5" lengthAdjust="spacingAndGlyphs" >182.800</text>
<text x="677.5" y="127.7" font-size="9" fill="#b2b5be" text-anchor="middle" textLength="26.5" lengthAdjust="spacingAndGlyphs" >182.600</text>
<text x="677.5" y="153.0" font-size="9" fill="#b2b5be" text-anchor="middle" textLength="26.5" lengthAdjust="spacingAndGlyphs" >182.400</text>
<text x="677.5" y="203.79999999999998" font-size="9" fill="#b2b5be" text-anchor="middle" textLength="26.5" lengthAdjust="spacingAndGlyphs" >182.000</text>
<rect x="659" y="49" width="35.60000000000002" height="10" fill="#ffeb3b"/>
<text x="664.6" y="57.3" font-size="9" fill="#131722" text-anchor="start" textLength="26" lengthAdjust="spacingAndGlyphs" stroke="#131722" stroke-width="0.18">183.162</text>
<rect x="659" y="91" width="35.60000000000002" height="10" fill="#2962ff"/>
<text x="664.6" y="99.3" font-size="9" fill="#ffffff" text-anchor="start" textLength="26" lengthAdjust="spacingAndGlyphs" stroke="#ffffff" stroke-width="0.18">182.829</text>
<rect x="659" y="108.4" width="35.60000000000002" height="10.0" fill="#f23645"/>
<text x="664.6" y="116.7" font-size="9" fill="#ffffff" text-anchor="start" textLength="26" lengthAdjust="spacingAndGlyphs" stroke="#ffffff" stroke-width="0.18">182.689</text>
<rect x="659" y="120.4" width="35.60000000000002" height="10.0" fill="#2962ff"/>
<text x="664.6" y="128.70000000000002" font-size="9" fill="#ffffff" text-anchor="start" textLength="26" lengthAdjust="spacingAndGlyphs" stroke="#ffffff" stroke-width="0.18">182.592</text>
<rect x="659" y="167.3" width="35.60000000000002" height="10.0" fill="#ffeb3b"/>
<text x="664.6" y="175.60000000000002" font-size="9" fill="#131722" text-anchor="start" textLength="26" lengthAdjust="spacingAndGlyphs" stroke="#131722" stroke-width="0.18">182.223</text>
<rect x="659" y="220.9" width="35.60000000000002" height="9.799999999999983" fill="#f23645"/>
<text x="664.6" y="229.10000000000002" font-size="9" fill="#ffffff" text-anchor="start" textLength="26" lengthAdjust="spacingAndGlyphs" stroke="#ffffff" stroke-width="0.18">181.799</text>
<rect x="659" y="137" width="35.60000000000002" height="19.30000000000001" fill="#089981"/>
<text x="664.6" y="145.60000000000002" font-size="9" fill="#ffffff" text-anchor="start" textLength="26" lengthAdjust="spacingAndGlyphs" stroke="#ffffff" stroke-width="0.18">182.461</text>
<text x="664.2" y="154.4" font-size="9" fill="#ffffff" fill-opacity="0.82" textLength="17.8" lengthAdjust="spacingAndGlyphs">40:54</text>
<rect x="658" y="2" width="39" height="20.6" fill="#141823"/>
<rect x="661.7" y="4.2" width="32.0" height="14.400000000000002" rx="3" fill="#0b0b0c" stroke="#34363d" stroke-width="1"/>
<text x="662.8000000000001" y="14.4" font-size="9" fill="#d1d4dc" text-anchor="start" textLength="12.6" lengthAdjust="spacingAndGlyphs" >JPY</text>
<path d="M688.4000000000001,10.6 L690.3000000000001,12.5 L692.2,10.6" fill="none" stroke="#d1d4dc" stroke-width="1.2"/>
<text x="445.7" y="258.9" font-size="9" fill="#b2b5be" text-anchor="middle" textLength="8.6" lengthAdjust="spacingAndGlyphs" >20</text>
<text x="538" y="258.9" font-size="9" fill="#b2b5be" text-anchor="middle" textLength="8.6" lengthAdjust="spacingAndGlyphs" >21</text>
<text x="629.5" y="258.9" font-size="9" fill="#b2b5be" text-anchor="middle" textLength="8.6" lengthAdjust="spacingAndGlyphs" >24</text>
<path d="M673.2,256.4 L675.7,251.99999999999997 L680.7,251.99999999999997 L683.2,256.4 L680.7,260.79999999999995 L675.7,260.79999999999995 Z" fill="none" stroke="#b2b5be" stroke-width="1"/>
<circle cx="678.2" cy="256.4" r="1.5" fill="none" stroke="#b2b5be" stroke-width="1"/>
<clipPath id="c3"><rect x="699" y="1" width="287" height="245"/></clipPath>
<g clip-path="url(#c3)">
<line x1="699" y1="31.8" x2="986" y2="31.8" stroke="#1e2230" stroke-width="1" opacity="1"/>
<line x1="699" y1="55.1" x2="986" y2="55.1" stroke="#1e2230" stroke-width="1" opacity="1"/>
<line x1="699" y1="78.3" x2="986" y2="78.3" stroke="#1e2230" stroke-width="1" opacity="1"/>
<line x1="699" y1="101.6" x2="986" y2="101.6" stroke="#1e2230" stroke-width="1" opacity="1"/>
<line x1="699" y1="124.8" x2="986" y2="124.8" stroke="#1e2230" stroke-width="1" opacity="1"/>
<line x1="699" y1="148.1" x2="986" y2="148.1" stroke="#1e2230" stroke-width="1" opacity="1"/>
<line x1="699" y1="171.3" x2="986" y2="171.3" stroke="#1e2230" stroke-width="1" opacity="1"/>
<line x1="699" y1="194.6" x2="986" y2="194.6" stroke="#1e2230" stroke-width="1" opacity="1"/>
<line x1="699" y1="217.8" x2="986" y2="217.8" stroke="#1e2230" stroke-width="1" opacity="1"/>
<line x1="699" y1="241" x2="986" y2="241" stroke="#1e2230" stroke-width="1" opacity="1"/>
<line x1="727.6" y1="1" x2="727.6" y2="246" stroke="#1e2230" stroke-width="1" opacity="1"/>
<line x1="766" y1="1" x2="766" y2="246" stroke="#1e2230" stroke-width="1" opacity="1"/>
<line x1="804.4" y1="1" x2="804.4" y2="246" stroke="#1e2230" stroke-width="1" opacity="1"/>
<line x1="850.4" y1="1" x2="850.4" y2="246" stroke="#1e2230" stroke-width="1" opacity="1"/>
<line x1="896.5" y1="1" x2="896.5" y2="246" stroke="#1e2230" stroke-width="1" opacity="1"/>
<line x1="942.2" y1="1" x2="942.2" y2="246" stroke="#1e2230" stroke-width="1" opacity="1"/>
<rect x="699" y="48.05" width="287" height="1.5" fill="#2962ff" opacity="0.5"/>
<rect x="699" y="80.55" width="287" height="1.5" fill="#f23645" opacity="0.5"/>
<rect x="699" y="189.15" width="287" height="1.5" fill="#ffeb3b" opacity="0.5"/>
<line x1="699" y1="134" x2="986" y2="134" stroke="#22ab94" stroke-width="1" opacity="0.55" stroke-dasharray="1 2"/>
<path d="M699.00,89.90 C699.93,89.90 701.47,91.15 704.60,89.90 C707.73,88.65 714.03,84.28 717.80,82.40 C721.57,80.52 723.58,80.02 727.20,78.60 C730.82,77.18 736.03,74.83 739.50,73.90 C742.97,72.97 745.33,73.07 748.00,73.00 C750.67,72.93 753.00,72.88 755.50,73.50 C758.00,74.12 760.48,74.75 763.00,76.70 C765.52,78.65 768.08,81.27 770.60,85.20 C773.12,89.13 775.45,95.83 778.10,100.30 C780.75,104.77 783.65,108.65 786.50,112.00 C789.35,115.35 792.18,117.75 795.20,120.40 C798.22,123.05 801.47,125.23 804.60,127.90 C807.73,130.57 810.87,133.58 814.00,136.40 C817.13,139.22 820.57,142.77 823.40,144.80 C826.23,146.83 828.80,147.82 831.00,148.60 C833.20,149.38 834.40,150.13 836.60,149.50 C838.80,148.87 841.75,146.92 844.20,144.80 C846.65,142.68 848.23,139.37 851.30,136.80 C854.37,134.23 859.58,131.95 862.60,129.40 C865.62,126.85 866.38,123.95 869.40,121.50 C872.42,119.05 877.50,116.95 880.70,114.70 C883.90,112.45 885.97,110.45 888.60,108.00 C891.23,105.55 893.87,102.65 896.50,100.00 C899.13,97.35 901.38,94.17 904.40,92.10 C907.42,90.03 911.40,89.10 914.60,87.60 C917.80,86.10 920.58,84.12 923.60,83.10 C926.62,82.08 930.25,81.62 932.70,81.50 C935.15,81.38 936.12,81.38 938.30,82.40 C940.48,83.42 944.55,86.73 945.80,87.60" fill="none" stroke="#2646b8" stroke-width="1.1" opacity="1" stroke-linejoin="round"/>
<line x1="699" y1="95.6" x2="927" y2="35.6" stroke="#cfd0d4" stroke-width="1"/>
<line x1="699" y1="115.3" x2="942.1" y2="51.5" stroke="#cfd0d4" stroke-width="1"/>
<line x1="701.30" y1="76.7" x2="701.30" y2="88" stroke="#f23645" stroke-width="1" opacity="0.8"/>
<rect x="699.75" y="79.5" width="3.1" height="5.30" fill="#f23645"/>
<line x1="705.13" y1="70.1" x2="705.13" y2="81.4" stroke="#f23645" stroke-width="1" opacity="0.8"/>
<rect x="703.58" y="78.6" width="3.1" height="1.90" fill="#f23645"/>
<line x1="708.96" y1="59.8" x2="708.96" y2="81.4" stroke="#f23645" stroke-width="1" opacity="0.8"/>
<rect x="707.41" y="61.7" width="3.1" height="18.80" fill="#f23645"/>
<line x1="712.79" y1="59.8" x2="712.79" y2="71.1" stroke="#089981" stroke-width="1" opacity="0.8"/>
<rect x="711.24" y="61.7" width="3.1" height="6.50" fill="#089981"/>
<line x1="716.62" y1="63.5" x2="716.62" y2="78.6" stroke="#089981" stroke-width="1" opacity="0.8"/>
<rect x="715.07" y="67.3" width="3.1" height="10.40" fill="#089981"/>
<line x1="720.45" y1="68.2" x2="720.45" y2="77.7" stroke="#f23645" stroke-width="1" opacity="0.8"/>
<rect x="718.90" y="69.2" width="3.1" height="7.50" fill="#f23645"/>
<line x1="724.28" y1="58.8" x2="724.28" y2="80.5" stroke="#089981" stroke-width="1" opacity="0.8"/>
<rect x="722.73" y="70.1" width="3.1" height="5.70" fill="#089981"/>
<line x1="728.11" y1="64.5" x2="728.11" y2="73" stroke="#089981" stroke-width="1" opacity="0.8"/>
<rect x="726.56" y="66.4" width="3.1" height="3.40" fill="#089981"/>
<line x1="731.94" y1="54.1" x2="731.94" y2="68.2" stroke="#089981" stroke-width="1" opacity="0.8"/>
<rect x="730.39" y="64.5" width="3.1" height="2.80" fill="#089981"/>
<line x1="735.77" y1="56" x2="735.77" y2="65.4" stroke="#f23645" stroke-width="1" opacity="0.8"/>
<rect x="734.22" y="61.7" width="3.1" height="1.80" fill="#f23645"/>
<line x1="739.60" y1="62.2" x2="739.60" y2="74.8" stroke="#089981" stroke-width="1" opacity="0.8"/>
<rect x="738.05" y="63" width="3.1" height="9.00" fill="#089981"/>
<line x1="743.43" y1="62.2" x2="743.43" y2="91.8" stroke="#089981" stroke-width="1" opacity="0.8"/>
<rect x="741.88" y="72" width="3.1" height="1.90" fill="#089981"/>
<line x1="747.26" y1="70.1" x2="747.26" y2="92.7" stroke="#089981" stroke-width="1" opacity="0.8"/>
<rect x="745.71" y="72.4" width="3.1" height="4.30" fill="#089981"/>
<line x1="751.09" y1="64.5" x2="751.09" y2="90.8" stroke="#089981" stroke-width="1" opacity="0.8"/>
<rect x="749.54" y="77.3" width="3.1" height="10.70" fill="#089981"/>
<line x1="754.92" y1="82.4" x2="754.92" y2="107.8" stroke="#089981" stroke-width="1" opacity="0.8"/>
<rect x="753.37" y="88.6" width="3.1" height="3.20" fill="#089981"/>
<line x1="758.75" y1="89.9" x2="758.75" y2="123.2" stroke="#089981" stroke-width="1" opacity="0.8"/>
<rect x="757.20" y="92.7" width="3.1" height="12.30" fill="#089981"/>
<line x1="762.58" y1="91.8" x2="762.58" y2="135.4" stroke="#089981" stroke-width="1" opacity="0.8"/>
<rect x="761.03" y="104" width="3.1" height="29.50" fill="#089981"/>
<line x1="766.41" y1="128.8" x2="766.41" y2="174" stroke="#089981" stroke-width="1" opacity="0.8"/>
<rect x="764.86" y="133.5" width="3.1" height="38.60" fill="#089981"/>
<line x1="770.24" y1="165.6" x2="770.24" y2="182.5" stroke="#089981" stroke-width="1" opacity="0.8"/>
<rect x="768.69" y="172.1" width="3.1" height="6.60" fill="#089981"/>
<line x1="774.07" y1="176.9" x2="774.07" y2="200.4" stroke="#089981" stroke-width="1" opacity="0.8"/>
<rect x="772.52" y="179.7" width="3.1" height="17.90" fill="#089981"/>
<line x1="777.90" y1="170" x2="777.90" y2="199" stroke="#f23645" stroke-width="1" opacity="0.8"/>
<rect x="776.35" y="176.9" width="3.1" height="20.70" fill="#f23645"/>
<line x1="781.73" y1="154.3" x2="781.73" y2="177.8" stroke="#f23645" stroke-width="1" opacity="0.8"/>
<rect x="780.18" y="159.9" width="3.1" height="17.00" fill="#f23645"/>
<line x1="785.56" y1="145.8" x2="785.56" y2="164.6" stroke="#f23645" stroke-width="1" opacity="0.8"/>
<rect x="784.01" y="152.9" width="3.1" height="7.00" fill="#f23645"/>
<line x1="789.39" y1="152.4" x2="789.39" y2="178.7" stroke="#089981" stroke-width="1" opacity="0.8"/>
<rect x="787.84" y="153.3" width="3.1" height="16.00" fill="#089981"/>
<line x1="793.22" y1="156.1" x2="793.22" y2="171.2" stroke="#f23645" stroke-width="1" opacity="0.8"/>
<rect x="791.67" y="163.1" width="3.1" height="6.20" fill="#f23645"/>
<line x1="797.05" y1="128.8" x2="797.05" y2="167.4" stroke="#f23645" stroke-width="1" opacity="0.8"/>
<rect x="795.50" y="131.7" width="3.1" height="32.00" fill="#f23645"/>
<line x1="800.88" y1="130.7" x2="800.88" y2="149.5" stroke="#089981" stroke-width="1" opacity="0.8"/>
<rect x="799.33" y="131.7" width="3.1" height="16.90" fill="#089981"/>
<line x1="804.71" y1="124.1" x2="804.71" y2="147.7" stroke="#f23645" stroke-width="1" opacity="0.8"/>
<rect x="803.16" y="129.8" width="3.1" height="16.90" fill="#f23645"/>
<line x1="808.54" y1="123" x2="808.54" y2="131" stroke="#f23645" stroke-width="1" opacity="0.8"/>
<rect x="806.99" y="124.7" width="3.1" height="5.10" fill="#f23645"/>
<line x1="812.37" y1="124.1" x2="812.37" y2="143.9" stroke="#089981" stroke-width="1" opacity="0.8"/>
<rect x="810.82" y="125.1" width="3.1" height="14.10" fill="#089981"/>
<line x1="816.20" y1="136.4" x2="816.20" y2="153.3" stroke="#089981" stroke-width="1" opacity="0.8"/>
<rect x="814.65" y="138.2" width="3.1" height="13.20" fill="#089981"/>
<line x1="820.03" y1="149.5" x2="820.03" y2="166.5" stroke="#089981" stroke-width="1" opacity="0.8"/>
<rect x="818.48" y="151.1" width="3.1" height="1.80" fill="#089981"/>
<line x1="823.86" y1="146.7" x2="823.86" y2="159.9" stroke="#f23645" stroke-width="1" opacity="0.8"/>
<rect x="822.31" y="151.4" width="3.1" height="1.50" fill="#f23645"/>
<line x1="827.69" y1="112.8" x2="827.69" y2="153.3" stroke="#f23645" stroke-width="1" opacity="0.8"/>
<rect x="826.14" y="122.2" width="3.1" height="30.20" fill="#f23645"/>
<line x1="831.52" y1="114.7" x2="831.52" y2="130.7" stroke="#089981" stroke-width="1" opacity="0.8"/>
<rect x="829.97" y="121.7" width="3.1" height="2.40" fill="#089981"/>
<line x1="835.35" y1="110" x2="835.35" y2="127.9" stroke="#f23645" stroke-width="1" opacity="0.8"/>
<rect x="833.80" y="113.8" width="3.1" height="10.30" fill="#f23645"/>
<line x1="839.18" y1="110" x2="839.18" y2="124" stroke="#089981" stroke-width="1" opacity="0.8"/>
<rect x="837.63" y="113.8" width="3.1" height="4.70" fill="#089981"/>
<line x1="843.01" y1="111" x2="843.01" y2="125" stroke="#089981" stroke-width="1" opacity="0.8"/>
<rect x="841.46" y="115" width="3.1" height="5.00" fill="#089981"/>
<line x1="846.84" y1="112" x2="846.84" y2="125" stroke="#f23645" stroke-width="1" opacity="0.8"/>
<rect x="845.29" y="114.7" width="3.1" height="7.80" fill="#f23645"/>
<line x1="850.67" y1="106.8" x2="850.67" y2="130.6" stroke="#089981" stroke-width="1" opacity="0.8"/>
<rect x="849.12" y="114.7" width="3.1" height="11.30" fill="#089981"/>
<line x1="854.50" y1="119.3" x2="854.50" y2="135.1" stroke="#089981" stroke-width="1" opacity="0.8"/>
<rect x="852.95" y="123.8" width="3.1" height="4.50" fill="#089981"/>
<line x1="858.33" y1="116" x2="858.33" y2="130" stroke="#f23645" stroke-width="1" opacity="0.8"/>
<rect x="856.78" y="117" width="3.1" height="11.30" fill="#f23645"/>
<line x1="862.16" y1="87.6" x2="862.16" y2="124.9" stroke="#f23645" stroke-width="1" opacity="0.8"/>
<rect x="860.61" y="89.2" width="3.1" height="28.90" fill="#f23645"/>
<line x1="865.99" y1="63.9" x2="865.99" y2="92.1" stroke="#f23645" stroke-width="1" opacity="0.8"/>
<rect x="864.44" y="69.5" width="3.1" height="21.50" fill="#f23645"/>
<line x1="869.82" y1="57.1" x2="869.82" y2="71.8" stroke="#f23645" stroke-width="1" opacity="0.8"/>
<rect x="868.27" y="62.8" width="3.1" height="7.40" fill="#f23645"/>
<line x1="873.65" y1="61.6" x2="873.65" y2="87.6" stroke="#089981" stroke-width="1" opacity="0.8"/>
<rect x="872.10" y="62.8" width="3.1" height="16.90" fill="#089981"/>
<line x1="877.48" y1="67.3" x2="877.48" y2="95.5" stroke="#089981" stroke-width="1" opacity="0.8"/>
<rect x="875.93" y="79.7" width="3.1" height="10.20" fill="#089981"/>
<line x1="881.31" y1="58.2" x2="881.31" y2="92.1" stroke="#f23645" stroke-width="1" opacity="0.8"/>
<rect x="879.76" y="76.3" width="3.1" height="15.20" fill="#f23645"/>
<line x1="885.14" y1="59.4" x2="885.14" y2="79.7" stroke="#f23645" stroke-width="1" opacity="0.8"/>
<rect x="883.59" y="70.2" width="3.1" height="8.40" fill="#f23645"/>
<line x1="888.97" y1="67" x2="888.97" y2="81" stroke="#089981" stroke-width="1" opacity="0.8"/>
<rect x="887.42" y="68.4" width="3.1" height="11.30" fill="#089981"/>
<line x1="892.80" y1="61.6" x2="892.80" y2="80.8" stroke="#f23645" stroke-width="1" opacity="0.8"/>
<rect x="891.25" y="70.7" width="3.1" height="9.00" fill="#f23645"/>
<line x1="896.63" y1="60.5" x2="896.63" y2="88.8" stroke="#089981" stroke-width="1" opacity="0.8"/>
<rect x="895.08" y="70.7" width="3.1" height="10.10" fill="#089981"/>
<line x1="900.46" y1="70.7" x2="900.46" y2="86.5" stroke="#f23645" stroke-width="1" opacity="0.8"/>
<rect x="898.91" y="76.3" width="3.1" height="4.50" fill="#f23645"/>
<line x1="904.29" y1="52.6" x2="904.29" y2="77.5" stroke="#f23645" stroke-width="1" opacity="0.8"/>
<rect x="902.74" y="53.7" width="3.1" height="22.60" fill="#f23645"/>
<line x1="908.12" y1="51.5" x2="908.12" y2="80.8" stroke="#089981" stroke-width="1" opacity="0.8"/>
<rect x="906.57" y="53.7" width="3.1" height="26.00" fill="#089981"/>
<line x1="911.95" y1="75.2" x2="911.95" y2="98.9" stroke="#089981" stroke-width="1" opacity="0.8"/>
<rect x="910.40" y="79.7" width="3.1" height="5.70" fill="#089981"/>
<line x1="915.78" y1="71.8" x2="915.78" y2="89.9" stroke="#f23645" stroke-width="1" opacity="0.8"/>
<rect x="914.23" y="80.8" width="3.1" height="5.70" fill="#f23645"/>
<line x1="919.61" y1="66.2" x2="919.61" y2="83.1" stroke="#f23645" stroke-width="1" opacity="0.8"/>
<rect x="918.06" y="70.7" width="3.1" height="10.10" fill="#f23645"/>
<line x1="923.44" y1="69.5" x2="923.44" y2="95.5" stroke="#089981" stroke-width="1" opacity="0.8"/>
<rect x="921.89" y="70.7" width="3.1" height="23.70" fill="#089981"/>
<line x1="927.27" y1="93.3" x2="927.27" y2="112.5" stroke="#089981" stroke-width="1" opacity="0.8"/>
<rect x="925.72" y="94.4" width="3.1" height="9.00" fill="#089981"/>
<line x1="931.10" y1="100" x2="931.10" y2="114.7" stroke="#089981" stroke-width="1" opacity="0.8"/>
<rect x="929.55" y="102.3" width="3.1" height="11.30" fill="#089981"/>
<line x1="934.93" y1="103.4" x2="934.93" y2="122.7" stroke="#f23645" stroke-width="1" opacity="0.8"/>
<rect x="933.38" y="105" width="3.1" height="8.60" fill="#f23645"/>
<line x1="938.76" y1="100" x2="938.76" y2="108" stroke="#f23645" stroke-width="1" opacity="0.8"/>
<rect x="937.21" y="102.8" width="3.1" height="2.90" fill="#f23645"/>
<line x1="942.59" y1="92.1" x2="942.59" y2="119.3" stroke="#089981" stroke-width="1" opacity="0.8"/>
<rect x="941.04" y="101.9" width="3.1" height="16.20" fill="#089981"/>
<line x1="946.42" y1="117" x2="946.42" y2="135.1" stroke="#089981" stroke-width="1" opacity="0.8"/>
<rect x="944.87" y="117.7" width="3.1" height="16.30" fill="#089981"/>
<rect x="703" y="20" width="62" height="10" fill="#141823" opacity="0.92"/>
<text x="704.8" y="28.3" font-size="9" fill="#0b9b80" text-anchor="start" textLength="58" lengthAdjust="spacingAndGlyphs" >−0.070 (−0.04%)</text>
<rect x="703" y="33" width="103" height="12" fill="#141823" opacity="0.45"/>
<text x="704.8" y="42" font-size="9" fill="#d1d4dc" text-anchor="start" textLength="46.4" lengthAdjust="spacingAndGlyphs" >SMA 20 close</text>
<circle cx="762.3" cy="38.6" r="5.6" fill="#5a2ae0" opacity="0.22"/>
<path d="M759.5999999999999,36.7 A3.3,3.3 0 0 1 765.5,37.800000000000004" fill="none" stroke="#6c30f2" stroke-width="1.4"/>
<path d="M765.0,40.5 A3.3,3.3 0 0 1 759.0999999999999,39.4" fill="none" stroke="#6c30f2" stroke-width="1.4"/>
<path d="M764.0999999999999,37.4 L767.0999999999999,37.2 L765.6999999999999,39.6 Z" fill="#6c30f2"/>
<path d="M760.5,39.800000000000004 L757.5,40.0 L758.9,37.6 Z" fill="#6c30f2"/>
<text x="774.2" y="42" font-size="9" fill="#2e6bff" text-anchor="start" textLength="28" lengthAdjust="spacingAndGlyphs" >182.658</text>
<rect x="705.3" y="48.3" width="18" height="13" rx="2.5" fill="#141823" fill-opacity="0.85" stroke="#2f3139" stroke-width="1"/>
<path d="M711.4,55.9 L714.3,53.3 L717.1999999999999,55.9" fill="none" stroke="#c4c6cc" stroke-width="1.4" stroke-linecap="round" stroke-linejoin="round"/>
</g>
<circle cx="713.0" cy="9.4" r="3.9" fill="#f0f0f0"/>
<circle cx="712.7" cy="9.7" r="1.9" fill="#f23645"/>
<circle cx="708.7" cy="13.4" r="4.1" fill="#1e63c8" stroke="#141823" stroke-width="0.8"/>
<circle cx="708.7" cy="13.4" r="2.2" fill="none" stroke="#d7c84a" stroke-width="0.6" stroke-dasharray="0.6 0.8" opacity="0.8"/>
<text x="719.2" y="15.8" font-size="10.4" fill="#d1d4dc" text-anchor="start" textLength="49.6" lengthAdjust="spacingAndGlyphs" >ユーロ／円</text>
<text x="773.5" y="15.200000000000001" font-size="10" fill="#d1d4dc" text-anchor="middle" >・</text>
<text x="777.1" y="15.8" font-size="10.4" fill="#d1d4dc" text-anchor="start" textLength="11.2" lengthAdjust="spacingAndGlyphs" >15</text>
<text x="792.4000000000001" y="15.5" font-size="10" fill="#d1d4dc" text-anchor="middle" >・</text>
<text x="796.6000000000001" y="15.8" font-size="10.4" fill="#d1d4dc" text-anchor="start" textLength="31.5" lengthAdjust="spacingAndGlyphs" >OANDA</text>
<circle cx="838.2" cy="11.7" r="5.6" fill="#15393a"/>
<circle cx="838.2" cy="11.7" r="2.7" fill="#0ca283"/>
<rect x="986" y="1" width="38" height="21" fill="#141823"/>
<text x="1006" y="35.0" font-size="9" fill="#b2b5be" text-anchor="middle" textLength="26.5" lengthAdjust="spacingAndGlyphs" >182.900</text>
<text x="1006" y="59.0" font-size="9" fill="#b2b5be" text-anchor="middle" textLength="26.5" lengthAdjust="spacingAndGlyphs" >182.800</text>
<text x="1006" y="81.7" font-size="9" fill="#b2b5be" text-anchor="middle" textLength="26.5" lengthAdjust="spacingAndGlyphs" >182.700</text>
<text x="1006" y="104.8" font-size="9" fill="#b2b5be" text-anchor="middle" textLength="26.5" lengthAdjust="spacingAndGlyphs" >182.600</text>
<text x="1006" y="128.2" font-size="9" fill="#b2b5be" text-anchor="middle" textLength="26.5" lengthAdjust="spacingAndGlyphs" >182.500</text>
<text x="1006" y="151.7" font-size="9" fill="#b2b5be" text-anchor="middle" textLength="26.5" lengthAdjust="spacingAndGlyphs" >182.400</text>
<text x="1006" y="174.6" font-size="9" fill="#b2b5be" text-anchor="middle" textLength="26.5" lengthAdjust="spacingAndGlyphs" >182.300</text>
<text x="1006" y="198.2" font-size="9" fill="#b2b5be" text-anchor="middle" textLength="26.5" lengthAdjust="spacingAndGlyphs" >182.200</text>
<text x="1006" y="221.39999999999998" font-size="9" fill="#b2b5be" text-anchor="middle" textLength="26.5" lengthAdjust="spacingAndGlyphs" >182.100</text>
<text x="1006" y="244.2" font-size="9" fill="#b2b5be" text-anchor="middle" textLength="26.5" lengthAdjust="spacingAndGlyphs" >182.000</text>
<rect x="986.7" y="43.6" width="36.09999999999991" height="10.399999999999999" fill="#2962ff"/>
<text x="992.3000000000001" y="52.099999999999994" font-size="9" fill="#ffffff" text-anchor="start" textLength="26" lengthAdjust="spacingAndGlyphs" stroke="#ffffff" stroke-width="0.18">182.829</text>
<rect x="986.7" y="72.7" width="36.09999999999991" height="10.299999999999997" fill="#f23645"/>
<text x="992.3000000000001" y="81.14999999999999" font-size="9" fill="#ffffff" text-anchor="start" textLength="26" lengthAdjust="spacingAndGlyphs" stroke="#ffffff" stroke-width="0.18">182.689</text>
<rect x="986.7" y="83.2" width="36.09999999999991" height="10.399999999999991" fill="#2962ff"/>
<text x="992.3000000000001" y="91.7" font-size="9" fill="#ffffff" text-anchor="start" textLength="26" lengthAdjust="spacingAndGlyphs" stroke="#ffffff" stroke-width="0.18">182.658</text>
<rect x="986.7" y="185.2" width="36.09999999999991" height="10.0" fill="#ffeb3b"/>
<text x="992.3000000000001" y="193.5" font-size="9" fill="#131722" text-anchor="start" textLength="26" lengthAdjust="spacingAndGlyphs" stroke="#131722" stroke-width="0.18">182.223</text>
<rect x="986.7" y="129" width="36.09999999999991" height="19.30000000000001" fill="#089981"/>
<text x="992.3000000000001" y="137.60000000000002" font-size="9" fill="#ffffff" text-anchor="start" textLength="26" lengthAdjust="spacingAndGlyphs" stroke="#ffffff" stroke-width="0.18">182.461</text>
<text x="991.9000000000001" y="146.4" font-size="9" fill="#ffffff" fill-opacity="0.82" textLength="17.8" lengthAdjust="spacingAndGlyphs">10:54</text>
<rect x="989.8" y="4.2" width="32.5" height="14.400000000000002" rx="3" fill="#0b0b0c" stroke="#34363d" stroke-width="1"/>
<text x="990.9" y="14.4" font-size="9" fill="#d1d4dc" text-anchor="start" textLength="12.6" lengthAdjust="spacingAndGlyphs" >JPY</text>
<path d="M1017.0,10.6 L1018.9,12.5 L1020.8,10.6" fill="none" stroke="#d1d4dc" stroke-width="1.2"/>
<text x="727.6" y="258.9" font-size="9" fill="#b2b5be" text-anchor="middle" textLength="8.6" lengthAdjust="spacingAndGlyphs" >23</text>
<text x="766" y="258.9" font-size="9" fill="#b2b5be" text-anchor="middle" textLength="19.6" lengthAdjust="spacingAndGlyphs" >09:30</text>
<text x="804.4" y="258.9" font-size="9" fill="#b2b5be" text-anchor="middle" textLength="19.6" lengthAdjust="spacingAndGlyphs" >12:00</text>
<text x="850.4" y="258.9" font-size="9" fill="#b2b5be" text-anchor="middle" textLength="19.6" lengthAdjust="spacingAndGlyphs" >15:00</text>
<text x="896.5" y="258.9" font-size="9" fill="#b2b5be" text-anchor="middle" textLength="19.6" lengthAdjust="spacingAndGlyphs" >18:00</text>
<text x="942.2" y="258.9" font-size="9" fill="#b2b5be" text-anchor="middle" textLength="19.6" lengthAdjust="spacingAndGlyphs" >21:00</text>
<clipPath id="c4"><rect x="1" y="266.5" width="318" height="244.5"/></clipPath>
<g clip-path="url(#c4)">
<line x1="1" y1="283.5" x2="319" y2="283.5" stroke="#1e2230" stroke-width="1" opacity="1"/>
<line x1="1" y1="308.7" x2="319" y2="308.7" stroke="#1e2230" stroke-width="1" opacity="1"/>
<line x1="1" y1="333.9" x2="319" y2="333.9" stroke="#1e2230" stroke-width="1" opacity="1"/>
<line x1="1" y1="359.1" x2="319" y2="359.1" stroke="#1e2230" stroke-width="1" opacity="1"/>
<line x1="1" y1="384.3" x2="319" y2="384.3" stroke="#1e2230" stroke-width="1" opacity="1"/>
<line x1="1" y1="409.5" x2="319" y2="409.5" stroke="#1e2230" stroke-width="1" opacity="1"/>
<line x1="1" y1="434.7" x2="319" y2="434.7" stroke="#1e2230" stroke-width="1" opacity="1"/>
<line x1="1" y1="459.9" x2="319" y2="459.9" stroke="#1e2230" stroke-width="1" opacity="1"/>
<line x1="1" y1="485.1" x2="319" y2="485.1" stroke="#1e2230" stroke-width="1" opacity="1"/>
<line x1="1" y1="510.3" x2="319" y2="510.3" stroke="#1e2230" stroke-width="1" opacity="1"/>
<line x1="52.7" y1="266.5" x2="52.7" y2="511" stroke="#1e2230" stroke-width="1" opacity="1"/>
<line x1="152.3" y1="266.5" x2="152.3" y2="511" stroke="#1e2230" stroke-width="1" opacity="1"/>
<line x1="251.8" y1="266.5" x2="251.8" y2="511" stroke="#1e2230" stroke-width="1" opacity="1"/>
<rect x="1" y="294.05" width="318" height="1.5" fill="#f23645" opacity="0.5"/>
<rect x="1" y="313.45" width="318" height="1.5" fill="#ffeb3b" opacity="0.5"/>
<rect x="1" y="315.55" width="318" height="1.5" fill="#2962ff" opacity="0.5"/>
<rect x="1" y="316.55" width="318" height="1.5" fill="#f23645" opacity="0.5"/>
<line x1="1" y1="318.5" x2="319" y2="318.5" stroke="#22ab94" stroke-width="1" opacity="0.55" stroke-dasharray="1 2"/>
<rect x="1" y="319.55" width="318" height="1.5" fill="#ffeb3b" opacity="0.5"/>
<rect x="1" y="322.05" width="318" height="1.5" fill="#f23645" opacity="0.5"/>
<rect x="1" y="362.45" width="318" height="1.5" fill="#43a047" opacity="0.5"/>
<path d="M1.00,460.60 C2.40,460.03 6.43,458.23 9.40,457.20 C12.37,456.17 15.67,455.28 18.80,454.40 C21.93,453.52 25.05,452.75 28.20,451.90 C31.35,451.05 34.55,450.05 37.70,449.30 C40.85,448.55 43.97,447.90 47.10,447.40 C50.23,446.90 53.37,446.55 56.50,446.30 C59.63,446.05 62.77,446.03 65.90,445.90 C69.03,445.77 72.17,445.57 75.30,445.50 C78.43,445.43 81.17,445.60 84.70,445.50 C88.23,445.40 91.40,445.23 96.50,444.90 C101.60,444.57 109.02,444.03 115.30,443.50 C121.58,442.97 129.45,442.28 134.20,441.70 C138.95,441.12 139.05,441.25 143.80,440.00 C148.55,438.75 156.42,435.95 162.70,434.20 C168.98,432.45 175.23,431.08 181.50,429.50 C187.77,427.92 193.05,426.43 200.30,424.70 C207.55,422.97 215.05,421.57 225.00,419.10 C234.95,416.63 251.08,412.53 260.00,409.90 C268.92,407.27 275.42,404.40 278.50,403.30" fill="none" stroke="#a82c3a" stroke-width="1.1" opacity="1" stroke-linejoin="round"/>
<path d="M1.00,426.10 C2.40,426.88 6.43,429.38 9.40,430.80 C12.37,432.22 15.67,432.55 18.80,434.60 C21.93,436.65 25.37,440.43 28.20,443.10 C31.03,445.77 32.97,449.50 35.80,450.60 C38.63,451.70 41.75,450.02 45.20,449.70 C48.65,449.38 52.73,449.08 56.50,448.70 C60.27,448.32 64.27,447.00 67.80,447.40 C71.33,447.80 75.12,450.08 77.70,451.10 C80.28,452.12 80.80,452.88 83.30,453.50 C85.80,454.12 89.57,454.58 92.70,454.80 C95.83,455.02 99.27,455.20 102.10,454.80 C104.93,454.40 106.87,452.93 109.70,452.40 C112.53,451.87 116.28,451.73 119.10,451.60 C121.92,451.47 124.08,451.85 126.60,451.60 C129.12,451.35 131.97,450.82 134.20,450.10 C136.43,449.38 137.77,448.98 140.00,447.30 C142.23,445.62 144.77,443.28 147.60,440.00 C150.43,436.72 153.55,431.72 157.00,427.60 C160.45,423.48 164.22,419.23 168.30,415.30 C172.38,411.37 176.78,407.77 181.50,404.00 C186.22,400.23 191.90,396.93 196.60,392.70 C201.30,388.47 206.30,381.72 209.70,378.60 C213.10,375.48 214.38,375.77 217.00,374.00 C219.62,372.23 222.58,370.12 225.40,368.00 C228.22,365.88 230.78,364.12 233.90,361.30 C237.02,358.48 240.72,354.50 244.10,351.10 C247.48,347.70 250.82,344.28 254.20,340.90 C257.58,337.52 261.85,332.83 264.40,330.80 C266.95,328.77 267.80,329.55 269.50,328.70 C271.20,327.85 273.05,326.48 274.60,325.70 C276.15,324.92 278.10,324.28 278.80,324.00" fill="none" stroke="#2646b8" stroke-width="1.1" opacity="1" stroke-linejoin="round"/>
<line x1="2.80" y1="436.5" x2="2.80" y2="446.9" stroke="#089981" stroke-width="1" opacity="0.8"/>
<rect x="1.25" y="439.9" width="3.1" height="1.30" fill="#089981"/>
<line x1="6.63" y1="437.4" x2="6.63" y2="447.8" stroke="#089981" stroke-width="1" opacity="0.8"/>
<rect x="5.08" y="440.6" width="3.1" height="4.40" fill="#089981"/>
<line x1="10.46" y1="428" x2="10.46" y2="446.9" stroke="#f23645" stroke-width="1" opacity="0.8"/>
<rect x="8.91" y="431.8" width="3.1" height="13.20" fill="#f23645"/>
<line x1="14.29" y1="417.3" x2="14.29" y2="429.3" stroke="#f23645" stroke-width="1" opacity="0.8"/>
<rect x="12.74" y="423.7" width="3.1" height="3.00" fill="#f23645"/>
<line x1="18.12" y1="421.1" x2="18.12" y2="438.4" stroke="#089981" stroke-width="1" opacity="0.8"/>
<rect x="16.57" y="423.7" width="3.1" height="13.70" fill="#089981"/>
<line x1="21.95" y1="428" x2="21.95" y2="444" stroke="#089981" stroke-width="1" opacity="0.8"/>
<rect x="20.40" y="436.9" width="3.1" height="6.20" fill="#089981"/>
<line x1="25.78" y1="429.3" x2="25.78" y2="459.1" stroke="#089981" stroke-width="1" opacity="0.8"/>
<rect x="24.23" y="443.1" width="3.1" height="9.40" fill="#089981"/>
<line x1="29.61" y1="448.7" x2="29.61" y2="471.3" stroke="#089981" stroke-width="1" opacity="0.8"/>
<rect x="28.06" y="449.3" width="3.1" height="21.10" fill="#089981"/>
<line x1="33.44" y1="461.9" x2="33.44" y2="484" stroke="#f23645" stroke-width="1" opacity="0.8"/>
<rect x="31.89" y="468.1" width="3.1" height="4.20" fill="#f23645"/>
<line x1="37.27" y1="449.7" x2="37.27" y2="472.3" stroke="#f23645" stroke-width="1" opacity="0.8"/>
<rect x="35.72" y="450.6" width="3.1" height="19.80" fill="#f23645"/>
<line x1="41.10" y1="436.1" x2="41.10" y2="461" stroke="#f23645" stroke-width="1" opacity="0.8"/>
<rect x="39.55" y="439.9" width="3.1" height="12.60" fill="#f23645"/>
<line x1="44.93" y1="429.9" x2="44.93" y2="441.1" stroke="#f23645" stroke-width="1" opacity="0.8"/>
<rect x="43.38" y="430.9" width="3.1" height="9.70" fill="#f23645"/>
<line x1="48.76" y1="428.5" x2="48.76" y2="453.9" stroke="#089981" stroke-width="1" opacity="0.8"/>
<rect x="47.21" y="430.9" width="3.1" height="15.50" fill="#089981"/>
<line x1="52.59" y1="430.8" x2="52.59" y2="452.5" stroke="#089981" stroke-width="1" opacity="0.8"/>
<rect x="51.04" y="447.3" width="3.1" height="2.80" fill="#089981"/>
<line x1="56.42" y1="441.7" x2="56.42" y2="460.5" stroke="#089981" stroke-width="1" opacity="0.8"/>
<rect x="54.87" y="449.2" width="3.1" height="7.50" fill="#089981"/>
<line x1="60.25" y1="433.7" x2="60.25" y2="457.2" stroke="#f23645" stroke-width="1" opacity="0.8"/>
<rect x="58.70" y="436" width="3.1" height="20.70" fill="#f23645"/>
<line x1="64.08" y1="437.9" x2="64.08" y2="459.5" stroke="#089981" stroke-width="1" opacity="0.8"/>
<rect x="62.53" y="439.8" width="3.1" height="16.00" fill="#089981"/>
<line x1="67.91" y1="454.8" x2="67.91" y2="485" stroke="#089981" stroke-width="1" opacity="0.8"/>
<rect x="66.36" y="468" width="3.1" height="15.10" fill="#089981"/>
<line x1="71.74" y1="452" x2="71.74" y2="486.9" stroke="#f23645" stroke-width="1" opacity="0.8"/>
<rect x="70.19" y="460.5" width="3.1" height="26.40" fill="#f23645"/>
<line x1="75.57" y1="461" x2="75.57" y2="485" stroke="#089981" stroke-width="1" opacity="0.8"/>
<rect x="74.02" y="461.8" width="3.1" height="22.20" fill="#089981"/>
<line x1="79.40" y1="476.5" x2="79.40" y2="491.6" stroke="#089981" stroke-width="1" opacity="0.8"/>
<rect x="77.85" y="483.2" width="3.1" height="1.00" fill="#089981"/>
<line x1="83.23" y1="453" x2="83.23" y2="486.9" stroke="#f23645" stroke-width="1" opacity="0.8"/>
<rect x="81.68" y="456.7" width="3.1" height="23.60" fill="#f23645"/>
<line x1="87.06" y1="447.3" x2="87.06" y2="466.1" stroke="#f23645" stroke-width="1" opacity="0.8"/>
<rect x="85.51" y="448.2" width="3.1" height="9.50" fill="#f23645"/>
<line x1="90.89" y1="433.2" x2="90.89" y2="457.7" stroke="#089981" stroke-width="1" opacity="0.8"/>
<rect x="89.34" y="447.9" width="3.1" height="2.60" fill="#089981"/>
<line x1="94.72" y1="437.9" x2="94.72" y2="453" stroke="#f23645" stroke-width="1" opacity="0.8"/>
<rect x="93.17" y="444.5" width="3.1" height="6.00" fill="#f23645"/>
<line x1="98.55" y1="433.2" x2="98.55" y2="466.1" stroke="#089981" stroke-width="1" opacity="0.8"/>
<rect x="97.00" y="446" width="3.1" height="11.70" fill="#089981"/>
<line x1="102.38" y1="439.8" x2="102.38" y2="470.8" stroke="#f23645" stroke-width="1" opacity="0.8"/>
<rect x="100.83" y="440.7" width="3.1" height="29.20" fill="#f23645"/>
<line x1="106.21" y1="440" x2="106.21" y2="449" stroke="#089981" stroke-width="1" opacity="0.8"/>
<rect x="104.66" y="441.7" width="3.1" height="5.60" fill="#089981"/>
<line x1="110.04" y1="435.1" x2="110.04" y2="449.2" stroke="#f23645" stroke-width="1" opacity="0.8"/>
<rect x="108.49" y="438.8" width="3.1" height="9.40" fill="#f23645"/>
<line x1="113.87" y1="430.4" x2="113.87" y2="448.2" stroke="#f23645" stroke-width="1" opacity="0.8"/>
<rect x="112.32" y="435.1" width="3.1" height="4.70" fill="#f23645"/>
<line x1="117.70" y1="432" x2="117.70" y2="448" stroke="#089981" stroke-width="1" opacity="0.8"/>
<rect x="116.15" y="436" width="3.1" height="1.90" fill="#089981"/>
<line x1="121.53" y1="427.2" x2="121.53" y2="444.5" stroke="#089981" stroke-width="1" opacity="0.8"/>
<rect x="119.98" y="436" width="3.1" height="7.50" fill="#089981"/>
<line x1="125.36" y1="437.9" x2="125.36" y2="452" stroke="#089981" stroke-width="1" opacity="0.8"/>
<rect x="123.81" y="443.5" width="3.1" height="3.80" fill="#089981"/>
<line x1="129.19" y1="433.2" x2="129.19" y2="448.2" stroke="#f23645" stroke-width="1" opacity="0.8"/>
<rect x="127.64" y="437.9" width="3.1" height="9.40" fill="#f23645"/>
<line x1="133.02" y1="426" x2="133.02" y2="441" stroke="#f23645" stroke-width="1" opacity="0.8"/>
<rect x="131.47" y="427.3" width="3.1" height="12.70" fill="#f23645"/>
<line x1="136.85" y1="416.3" x2="136.85" y2="430.4" stroke="#f23645" stroke-width="1" opacity="0.8"/>
<rect x="135.30" y="418.2" width="3.1" height="9.40" fill="#f23645"/>
<line x1="140.68" y1="403.1" x2="140.68" y2="422.9" stroke="#f23645" stroke-width="1" opacity="0.8"/>
<rect x="139.13" y="406.9" width="3.1" height="14.50" fill="#f23645"/>
<line x1="144.51" y1="397.4" x2="144.51" y2="411.6" stroke="#f23645" stroke-width="1" opacity="0.8"/>
<rect x="142.96" y="399.9" width="3.1" height="9.80" fill="#f23645"/>
<line x1="148.34" y1="393.1" x2="148.34" y2="405.9" stroke="#f23645" stroke-width="1" opacity="0.8"/>
<rect x="146.79" y="395.6" width="3.1" height="5.60" fill="#f23645"/>
<line x1="152.17" y1="381" x2="152.17" y2="397" stroke="#f23645" stroke-width="1" opacity="0.8"/>
<rect x="150.62" y="381.8" width="3.1" height="14.70" fill="#f23645"/>
<line x1="156.00" y1="376" x2="156.00" y2="387" stroke="#f23645" stroke-width="1" opacity="0.8"/>
<rect x="154.45" y="377.3" width="3.1" height="7.90" fill="#f23645"/>
<line x1="159.83" y1="374.3" x2="159.83" y2="388.6" stroke="#f23645" stroke-width="1" opacity="0.8"/>
<rect x="158.28" y="375.4" width="3.1" height="8.90" fill="#f23645"/>
<line x1="163.66" y1="372.4" x2="163.66" y2="398.4" stroke="#089981" stroke-width="1" opacity="0.8"/>
<rect x="162.11" y="373.5" width="3.1" height="18.90" fill="#089981"/>
<line x1="167.49" y1="382.4" x2="167.49" y2="398.4" stroke="#f23645" stroke-width="1" opacity="0.8"/>
<rect x="165.94" y="383.7" width="3.1" height="8.70" fill="#f23645"/>
<line x1="171.32" y1="377.3" x2="171.32" y2="389.3" stroke="#f23645" stroke-width="1" opacity="0.8"/>
<rect x="169.77" y="382.9" width="3.1" height="2.30" fill="#f23645"/>
<line x1="175.15" y1="379.5" x2="175.15" y2="389.9" stroke="#089981" stroke-width="1" opacity="0.8"/>
<rect x="173.60" y="381.1" width="3.1" height="2.20" fill="#089981"/>
<line x1="178.98" y1="380" x2="178.98" y2="388" stroke="#089981" stroke-width="1" opacity="0.8"/>
<rect x="177.43" y="382.9" width="3.1" height="2.70" fill="#089981"/>
<line x1="182.81" y1="376" x2="182.81" y2="386" stroke="#f23645" stroke-width="1" opacity="0.8"/>
<rect x="181.26" y="379.5" width="3.1" height="5.70" fill="#f23645"/>
<line x1="186.64" y1="372" x2="186.64" y2="383.3" stroke="#089981" stroke-width="1" opacity="0.8"/>
<rect x="185.09" y="373.5" width="3.1" height="2.70" fill="#089981"/>
<line x1="190.47" y1="368.2" x2="190.47" y2="378.6" stroke="#f23645" stroke-width="1" opacity="0.8"/>
<rect x="188.92" y="373" width="3.1" height="3.20" fill="#f23645"/>
<line x1="194.30" y1="364" x2="194.30" y2="375" stroke="#f23645" stroke-width="1" opacity="0.8"/>
<rect x="192.75" y="365.4" width="3.1" height="8.50" fill="#f23645"/>
<line x1="198.13" y1="364.5" x2="198.13" y2="382.4" stroke="#089981" stroke-width="1" opacity="0.8"/>
<rect x="196.58" y="365.4" width="3.1" height="12.30" fill="#089981"/>
<line x1="201.96" y1="346.9" x2="201.96" y2="366.4" stroke="#f23645" stroke-width="1" opacity="0.8"/>
<rect x="200.41" y="361.2" width="3.1" height="3.60" fill="#f23645"/>
<line x1="205.79" y1="353.4" x2="205.79" y2="366.4" stroke="#089981" stroke-width="1" opacity="0.8"/>
<rect x="204.24" y="357" width="3.1" height="6.70" fill="#089981"/>
<line x1="209.62" y1="347.5" x2="209.62" y2="363.8" stroke="#f23645" stroke-width="1" opacity="0.8"/>
<rect x="208.07" y="347.8" width="3.1" height="15.80" fill="#f23645"/>
<line x1="213.45" y1="340.9" x2="213.45" y2="354.3" stroke="#089981" stroke-width="1" opacity="0.8"/>
<rect x="211.90" y="347.6" width="3.1" height="1.60" fill="#089981"/>
<line x1="217.28" y1="345.8" x2="217.28" y2="361" stroke="#089981" stroke-width="1" opacity="0.8"/>
<rect x="215.73" y="348.6" width="3.1" height="2.00" fill="#089981"/>
<line x1="221.11" y1="334.5" x2="221.11" y2="350.3" stroke="#f23645" stroke-width="1" opacity="0.8"/>
<rect x="219.56" y="336.7" width="3.1" height="12.70" fill="#f23645"/>
<line x1="224.94" y1="321.4" x2="224.94" y2="338.4" stroke="#f23645" stroke-width="1" opacity="0.8"/>
<rect x="223.39" y="333.3" width="3.1" height="2.90" fill="#f23645"/>
<line x1="228.77" y1="325.3" x2="228.77" y2="335" stroke="#f23645" stroke-width="1" opacity="0.8"/>
<rect x="227.22" y="326.5" width="3.1" height="7.70" fill="#f23645"/>
<line x1="232.60" y1="324.8" x2="232.60" y2="334.2" stroke="#089981" stroke-width="1" opacity="0.8"/>
<rect x="231.05" y="327.4" width="3.1" height="1.30" fill="#089981"/>
<line x1="236.43" y1="314.7" x2="236.43" y2="331.1" stroke="#f23645" stroke-width="1" opacity="0.8"/>
<rect x="234.88" y="315.5" width="3.1" height="14.90" fill="#f23645"/>
<line x1="240.26" y1="304.5" x2="240.26" y2="324.8" stroke="#f23645" stroke-width="1" opacity="0.8"/>
<rect x="238.71" y="305" width="3.1" height="10.80" fill="#f23645"/>
<line x1="244.09" y1="303.3" x2="244.09" y2="313" stroke="#089981" stroke-width="1" opacity="0.8"/>
<rect x="242.54" y="304" width="3.1" height="3.40" fill="#089981"/>
<line x1="247.92" y1="306" x2="247.92" y2="313" stroke="#089981" stroke-width="1" opacity="0.8"/>
<rect x="246.37" y="307.4" width="3.1" height="3.90" fill="#089981"/>
<line x1="251.75" y1="308.7" x2="251.75" y2="317.2" stroke="#089981" stroke-width="1" opacity="0.8"/>
<rect x="250.20" y="310.1" width="3.1" height="1.00" fill="#089981"/>
<line x1="255.58" y1="298.9" x2="255.58" y2="314.2" stroke="#089981" stroke-width="1" opacity="0.8"/>
<rect x="254.03" y="310.1" width="3.1" height="3.40" fill="#089981"/>
<line x1="259.41" y1="290.9" x2="259.41" y2="317.5" stroke="#f23645" stroke-width="1" opacity="0.8"/>
<rect x="257.86" y="307" width="3.1" height="9.90" fill="#f23645"/>
<line x1="263.24" y1="308.7" x2="263.24" y2="322.3" stroke="#089981" stroke-width="1" opacity="0.8"/>
<rect x="261.69" y="310.8" width="3.1" height="1.30" fill="#089981"/>
<line x1="267.07" y1="296" x2="267.07" y2="314" stroke="#f23645" stroke-width="1" opacity="0.8"/>
<rect x="265.52" y="297.7" width="3.1" height="15.30" fill="#f23645"/>
<line x1="270.90" y1="295.5" x2="270.90" y2="327.4" stroke="#089981" stroke-width="1" opacity="0.8"/>
<rect x="269.35" y="296" width="3.1" height="31.00" fill="#089981"/>
<line x1="274.73" y1="315.2" x2="274.73" y2="328.7" stroke="#f23645" stroke-width="1" opacity="0.8"/>
<rect x="273.18" y="316.4" width="3.1" height="10.10" fill="#f23645"/>
<line x1="278.56" y1="316" x2="278.56" y2="319.5" stroke="#089981" stroke-width="1" opacity="0.8"/>
<rect x="277.01" y="317.2" width="3.1" height="1.00" fill="#089981"/>
<rect x="5" y="286" width="61" height="10" fill="#141823" opacity="0.92"/>
<text x="6.2" y="294.3" font-size="9" fill="#0b9b80" text-anchor="start" textLength="58" lengthAdjust="spacingAndGlyphs" >−0.253 (−0.14%)</text>
<rect x="5" y="299" width="101" height="12" fill="#141823" opacity="0.45"/>
<text x="6.2" y="308" font-size="9" fill="#d1d4dc" text-anchor="start" textLength="46.4" lengthAdjust="spacingAndGlyphs" >SMA 20 close</text>
<circle cx="63.6" cy="304.6" r="5.6" fill="#5a2ae0" opacity="0.22"/>
<path d="M60.9,302.70000000000005 A3.3,3.3 0 0 1 66.8,303.8" fill="none" stroke="#6c30f2" stroke-width="1.4"/>
<path d="M66.3,306.5 A3.3,3.3 0 0 1 60.4,305.40000000000003" fill="none" stroke="#6c30f2" stroke-width="1.4"/>
<path d="M65.4,303.40000000000003 L68.4,303.20000000000005 L67.0,305.6 Z" fill="#6c30f2"/>
<path d="M61.800000000000004,305.8 L58.800000000000004,306.0 L60.2,303.6 Z" fill="#6c30f2"/>
<text x="75.6" y="308" font-size="9" fill="#2e6bff" text-anchor="start" textLength="28" lengthAdjust="spacingAndGlyphs" >181.641</text>
<rect x="5" y="314" width="101" height="12" fill="#141823" opacity="0.45"/>
<text x="6.2" y="323" font-size="9" fill="#d1d4dc" text-anchor="start" textLength="46.4" lengthAdjust="spacingAndGlyphs" >SMA 80 close</text>
<circle cx="63.6" cy="319.6" r="5.6" fill="#5a2ae0" opacity="0.22"/>
<path d="M60.9,317.70000000000005 A3.3,3.3 0 0 1 66.8,318.8" fill="none" stroke="#6c30f2" stroke-width="1.4"/>
<path d="M66.3,321.5 A3.3,3.3 0 0 1 60.4,320.40000000000003" fill="none" stroke="#6c30f2" stroke-width="1.4"/>
<path d="M65.4,318.40000000000003 L68.4,318.20000000000005 L67.0,320.6 Z" fill="#6c30f2"/>
<path d="M61.800000000000004,320.8 L58.800000000000004,321.0 L60.2,318.6 Z" fill="#6c30f2"/>
<text x="75.6" y="323" font-size="9" fill="#f23645" text-anchor="start" textLength="28" lengthAdjust="spacingAndGlyphs" >168.891</text>
<rect x="7.0" y="329.8" width="18" height="13" rx="2.5" fill="#141823" fill-opacity="0.85" stroke="#2f3139" stroke-width="1"/>
<path d="M13.1,337.40000000000003 L16.0,334.8 L18.9,337.40000000000003" fill="none" stroke="#c4c6cc" stroke-width="1.4" stroke-linecap="round" stroke-linejoin="round"/>
</g>
<circle cx="14.5" cy="274.6" r="3.9" fill="#f0f0f0"/>
<circle cx="14.2" cy="274.90000000000003" r="1.9" fill="#f23645"/>
<circle cx="10.2" cy="278.6" r="4.1" fill="#1e63c8" stroke="#141823" stroke-width="0.8"/>
<circle cx="10.2" cy="278.6" r="2.2" fill="none" stroke="#d7c84a" stroke-width="0.6" stroke-dasharray="0.6 0.8" opacity="0.8"/>
<text x="20.7" y="281.3" font-size="10.4" fill="#d1d4dc" text-anchor="start" textLength="49.6" lengthAdjust="spacingAndGlyphs" >ユーロ／円</text>
<text x="75.0" y="280.7" font-size="10" fill="#d1d4dc" text-anchor="middle" >・</text>
<text x="78.6" y="281.3" font-size="10.4" fill="#d1d4dc" text-anchor="start" textLength="15.5" lengthAdjust="spacingAndGlyphs" >1週</text>
<text x="98.19999999999999" y="281.0" font-size="10" fill="#d1d4dc" text-anchor="middle" >・</text>
<text x="102.39999999999999" y="281.3" font-size="10.4" fill="#d1d4dc" text-anchor="start" textLength="31.5" lengthAdjust="spacingAndGlyphs" >OANDA</text>
<circle cx="145" cy="277.20000000000005" r="5.6" fill="#15393a"/>
<circle cx="145" cy="277.20000000000005" r="2.7" fill="#0ca283"/>
<rect x="319" y="266.5" width="38" height="20" fill="#141823"/>
<text x="338.2" y="312.2" font-size="9" fill="#b2b5be" text-anchor="middle" textLength="26.5" lengthAdjust="spacingAndGlyphs" >184.000</text>
<text x="338.2" y="337.4" font-size="9" fill="#b2b5be" text-anchor="middle" textLength="26.5" lengthAdjust="spacingAndGlyphs" >180.000</text>
<text x="338.2" y="362.59999999999997" font-size="9" fill="#b2b5be" text-anchor="middle" textLength="26.5" lengthAdjust="spacingAndGlyphs" >176.000</text>
<text x="338.2" y="387.7" font-size="9" fill="#b2b5be" text-anchor="middle" textLength="26.5" lengthAdjust="spacingAndGlyphs" >172.000</text>
<text x="338.2" y="412.5" font-size="9" fill="#b2b5be" text-anchor="middle" textLength="26.5" lengthAdjust="spacingAndGlyphs" >168.000</text>
<text x="338.2" y="437.2" font-size="9" fill="#b2b5be" text-anchor="middle" textLength="26.5" lengthAdjust="spacingAndGlyphs" >164.000</text>
<text x="338.2" y="462.8" font-size="9" fill="#b2b5be" text-anchor="middle" textLength="26.5" lengthAdjust="spacingAndGlyphs" >160.000</text>
<text x="338.2" y="487.8" font-size="9" fill="#b2b5be" text-anchor="middle" textLength="26.5" lengthAdjust="spacingAndGlyphs" >156.000</text>
<text x="338.2" y="512.9" font-size="9" fill="#b2b5be" text-anchor="middle" textLength="26.5" lengthAdjust="spacingAndGlyphs" >152.000</text>
<rect x="319.2" y="281.5" width="35.80000000000001" height="10.699999999999989" fill="#ffeb3b"/>
<text x="324.8" y="290.15000000000003" font-size="9" fill="#131722" text-anchor="start" textLength="26" lengthAdjust="spacingAndGlyphs" stroke="#131722" stroke-width="0.18">183.162</text>
<rect x="319.2" y="292.9" width="35.80000000000001" height="10.300000000000011" fill="#2962ff"/>
<text x="324.8" y="301.34999999999997" font-size="9" fill="#ffffff" text-anchor="start" textLength="26" lengthAdjust="spacingAndGlyphs" stroke="#ffffff" stroke-width="0.18">182.829</text>
<rect x="319.2" y="303.5" width="35.80000000000001" height="10.300000000000011" fill="#f23645"/>
<text x="324.8" y="311.95" font-size="9" fill="#ffffff" text-anchor="start" textLength="26" lengthAdjust="spacingAndGlyphs" stroke="#ffffff" stroke-width="0.18">182.689</text>
<rect x="319.2" y="334" width="35.80000000000001" height="10.300000000000011" fill="#ffeb3b"/>
<text x="324.8" y="342.45" font-size="9" fill="#131722" text-anchor="start" textLength="26" lengthAdjust="spacingAndGlyphs" stroke="#131722" stroke-width="0.18">182.223</text>
<rect x="319.2" y="344.8" width="35.80000000000001" height="10.199999999999989" fill="#f23645"/>
<text x="324.8" y="353.2" font-size="9" fill="#ffffff" text-anchor="start" textLength="26" lengthAdjust="spacingAndGlyphs" stroke="#ffffff" stroke-width="0.18">181.799</text>
<rect x="319.2" y="355.4" width="35.80000000000001" height="10.400000000000034" fill="#2962ff"/>
<text x="324.8" y="363.90000000000003" font-size="9" fill="#ffffff" text-anchor="start" textLength="26" lengthAdjust="spacingAndGlyphs" stroke="#ffffff" stroke-width="0.18">181.641</text>
<rect x="319.2" y="366.4" width="35.80000000000001" height="10.400000000000034" fill="#4caf50"/>
<text x="324.8" y="374.90000000000003" font-size="9" fill="#ffffff" text-anchor="start" textLength="26" lengthAdjust="spacingAndGlyphs" stroke="#ffffff" stroke-width="0.18">175.428</text>
<rect x="319.2" y="399.3" width="35.80000000000001" height="10.0" fill="#f23645"/>
<text x="324.8" y="407.6" font-size="9" fill="#ffffff" text-anchor="start" textLength="26" lengthAdjust="spacingAndGlyphs" stroke="#ffffff" stroke-width="0.18">168.891</text>
<rect x="319.2" y="313.8" width="35.80000000000001" height="19.5" fill="#089981"/>
<text x="324.8" y="322.40000000000003" font-size="9" fill="#ffffff" text-anchor="start" textLength="26" lengthAdjust="spacingAndGlyphs" stroke="#ffffff" stroke-width="0.18">182.461</text>
<text x="324.40000000000003" y="331.20000000000005" font-size="9" fill="#ffffff" fill-opacity="0.82" textLength="22.8" lengthAdjust="spacingAndGlyphs">4d 10h</text>
<rect x="319" y="266.5" width="38" height="20" fill="#141823"/>
<rect x="321.7" y="270.2" width="32.80000000000001" height="14.400000000000034" rx="3" fill="#0b0b0c" stroke="#34363d" stroke-width="1"/>
<text x="322.8" y="280.4" font-size="9" fill="#d1d4dc" text-anchor="start" textLength="12.6" lengthAdjust="spacingAndGlyphs" >JPY</text>
<path d="M349.2,276.59999999999997 L351.1,278.5 L353.0,276.59999999999997" fill="none" stroke="#d1d4dc" stroke-width="1.2"/>
<text x="52.7" y="524.4" font-size="9" fill="#b2b5be" text-anchor="middle" textLength="17.2" lengthAdjust="spacingAndGlyphs" >2025</text>
<text x="152.3" y="524.4" font-size="9" fill="#b2b5be" text-anchor="middle" >7月</text>
<text x="251.8" y="524.4" font-size="9" fill="#b2b5be" text-anchor="middle" textLength="17.2" lengthAdjust="spacingAndGlyphs" >2026</text>
<g fill="#e8e9ec"><path d="M8,493.9 H15.6 V503.8 H12.4 V497.8 H8 Z"/><circle cx="18.9" cy="495.9" r="1.7"/><path d="M23.4,493.9 H27.4 L23.9,503.8 H19.3 Z"/></g>
<clipPath id="c5"><rect x="359" y="266.5" width="298" height="244.5"/></clipPath>
<g clip-path="url(#c5)">
<line x1="359" y1="287.6" x2="657" y2="287.6" stroke="#1e2230" stroke-width="1" opacity="1"/>
<line x1="359" y1="315" x2="657" y2="315" stroke="#1e2230" stroke-width="1" opacity="1"/>
<line x1="359" y1="342.4" x2="657" y2="342.4" stroke="#1e2230" stroke-width="1" opacity="1"/>
<line x1="359" y1="369.8" x2="657" y2="369.8" stroke="#1e2230" stroke-width="1" opacity="1"/>
<line x1="359" y1="397.2" x2="657" y2="397.2" stroke="#1e2230" stroke-width="1" opacity="1"/>
<line x1="359" y1="424.6" x2="657" y2="424.6" stroke="#1e2230" stroke-width="1" opacity="1"/>
<line x1="359" y1="453" x2="657" y2="453" stroke="#1e2230" stroke-width="1" opacity="1"/>
<line x1="359" y1="475" x2="657" y2="475" stroke="#1e2230" stroke-width="1" opacity="1"/>
<line x1="359" y1="497.5" x2="657" y2="497.5" stroke="#1e2230" stroke-width="1" opacity="1"/>
<line x1="394" y1="266.5" x2="394" y2="511" stroke="#1e2230" stroke-width="1" opacity="1"/>
<line x1="478.2" y1="266.5" x2="478.2" y2="511" stroke="#1e2230" stroke-width="1" opacity="1"/>
<line x1="558.4" y1="266.5" x2="558.4" y2="511" stroke="#1e2230" stroke-width="1" opacity="1"/>
<line x1="635.2" y1="266.5" x2="635.2" y2="511" stroke="#1e2230" stroke-width="1" opacity="1"/>
<rect x="359" y="306.35" width="298" height="1.5" fill="#f23645" opacity="0.5"/>
<rect x="359" y="392.65" width="298" height="1.5" fill="#ffeb3b" opacity="0.5"/>
<rect x="359" y="401.65" width="298" height="1.5" fill="#2962ff" opacity="0.5"/>
<rect x="359" y="405.35" width="298" height="1.5" fill="#f23645" opacity="0.5"/>
<rect x="359" y="418.05" width="298" height="1.5" fill="#ffeb3b" opacity="0.5"/>
<rect x="359" y="430.05" width="298" height="1.5" fill="#f23645" opacity="0.5"/>
<path d="M377.80,511.90 C378.58,510.80 379.83,508.60 382.50,505.30 C385.17,502.00 390.35,496.65 393.80,492.10 C397.25,487.55 399.75,482.85 403.20,478.00 C406.65,473.15 411.05,467.38 414.50,463.00 C417.95,458.62 420.77,455.00 423.90,451.70 C427.03,448.40 430.62,445.47 433.30,443.20 C435.98,440.93 438.25,439.27 440.00,438.10 C441.75,436.93 441.92,438.40 443.80,436.20 C445.68,434.00 448.80,428.20 451.30,424.90 C453.80,421.60 455.98,419.53 458.80,416.40 C461.62,413.27 465.05,409.38 468.20,406.10 C471.35,402.82 474.55,399.53 477.70,396.70 C480.85,393.87 484.28,390.68 487.10,389.10 C489.92,387.52 492.10,388.30 494.60,387.20 C497.10,386.10 499.90,383.83 502.10,382.50 C504.30,381.17 505.60,380.70 507.80,379.20 C510.00,377.70 512.78,374.92 515.30,373.50 C517.82,372.08 520.70,371.48 522.90,370.70 C525.10,369.92 526.40,369.65 528.50,368.80 C530.60,367.95 533.07,365.82 535.50,365.60 C537.93,365.38 540.58,366.97 543.10,367.50 C545.62,368.03 548.10,368.48 550.60,368.80 C553.10,369.12 555.58,369.87 558.10,369.40 C560.62,368.93 563.18,367.52 565.70,366.00 C568.22,364.48 571.17,361.57 573.20,360.30 C575.23,359.03 576.33,358.40 577.90,358.40 C579.47,358.40 580.57,358.72 582.60,360.30 C584.63,361.88 587.58,365.53 590.10,367.90 C592.62,370.27 595.18,371.98 597.70,374.50 C600.22,377.02 602.70,380.45 605.20,383.00 C607.70,385.55 610.88,388.52 612.70,389.80 C614.52,391.08 615.53,390.55 616.10,390.70" fill="none" stroke="#2646b8" stroke-width="1.1" opacity="1" stroke-linejoin="round"/>
<line x1="608" y1="429.3" x2="616.1" y2="400.1" stroke="#cfd0d4" stroke-width="1"/>
<line x1="359.90" y1="473.3" x2="359.90" y2="491.2" stroke="#f23645" stroke-width="1" opacity="0.8"/>
<rect x="358.35" y="478.6" width="3.1" height="2.20" fill="#f23645"/>
<line x1="363.72" y1="439.4" x2="363.72" y2="486.5" stroke="#f23645" stroke-width="1" opacity="0.8"/>
<rect x="362.17" y="442.8" width="3.1" height="36.50" fill="#f23645"/>
<line x1="367.55" y1="425" x2="367.55" y2="453.2" stroke="#f23645" stroke-width="1" opacity="0.8"/>
<rect x="366.00" y="437.5" width="3.1" height="6.20" fill="#f23645"/>
<line x1="371.37" y1="434.7" x2="371.37" y2="487.4" stroke="#089981" stroke-width="1" opacity="0.8"/>
<rect x="369.82" y="437.2" width="3.1" height="42.10" fill="#089981"/>
<line x1="375.20" y1="445" x2="375.20" y2="479.9" stroke="#f23645" stroke-width="1" opacity="0.8"/>
<rect x="373.65" y="458.2" width="3.1" height="21.10" fill="#f23645"/>
<line x1="379.02" y1="458.2" x2="379.02" y2="477.1" stroke="#089981" stroke-width="1" opacity="0.8"/>
<rect x="377.47" y="460.1" width="3.1" height="6.10" fill="#089981"/>
<line x1="382.84" y1="439.4" x2="382.84" y2="470.5" stroke="#f23645" stroke-width="1" opacity="0.8"/>
<rect x="381.29" y="440.4" width="3.1" height="27.30" fill="#f23645"/>
<line x1="386.67" y1="437.5" x2="386.67" y2="459.2" stroke="#089981" stroke-width="1" opacity="0.8"/>
<rect x="385.12" y="439.4" width="3.1" height="7.20" fill="#089981"/>
<line x1="390.49" y1="438.5" x2="390.49" y2="465.8" stroke="#089981" stroke-width="1" opacity="0.8"/>
<rect x="388.94" y="447" width="3.1" height="2.80" fill="#089981"/>
<line x1="394.32" y1="448.8" x2="394.32" y2="477.1" stroke="#089981" stroke-width="1" opacity="0.8"/>
<rect x="392.77" y="453" width="3.1" height="14.70" fill="#089981"/>
<line x1="398.14" y1="443.2" x2="398.14" y2="468.6" stroke="#f23645" stroke-width="1" opacity="0.8"/>
<rect x="396.59" y="447" width="3.1" height="20.70" fill="#f23645"/>
<line x1="401.96" y1="440.4" x2="401.96" y2="459.2" stroke="#f23645" stroke-width="1" opacity="0.8"/>
<rect x="400.41" y="448.5" width="3.1" height="1.30" fill="#f23645"/>
<line x1="405.79" y1="445.1" x2="405.79" y2="469.5" stroke="#089981" stroke-width="1" opacity="0.8"/>
<rect x="404.24" y="446.6" width="3.1" height="17.30" fill="#089981"/>
<line x1="409.61" y1="453.5" x2="409.61" y2="478" stroke="#f23645" stroke-width="1" opacity="0.8"/>
<rect x="408.06" y="456.4" width="3.1" height="7.50" fill="#f23645"/>
<line x1="413.44" y1="438" x2="413.44" y2="465" stroke="#f23645" stroke-width="1" opacity="0.8"/>
<rect x="411.89" y="439.8" width="3.1" height="24.10" fill="#f23645"/>
<line x1="417.26" y1="407.1" x2="417.26" y2="443.8" stroke="#f23645" stroke-width="1" opacity="0.8"/>
<rect x="415.71" y="413.7" width="3.1" height="29.20" fill="#f23645"/>
<line x1="421.08" y1="408" x2="421.08" y2="424" stroke="#f23645" stroke-width="1" opacity="0.8"/>
<rect x="419.53" y="410.8" width="3.1" height="4.80" fill="#f23645"/>
<line x1="424.91" y1="404.3" x2="424.91" y2="427.8" stroke="#f23645" stroke-width="1" opacity="0.8"/>
<rect x="423.36" y="408" width="3.1" height="8.50" fill="#f23645"/>
<line x1="428.73" y1="393" x2="428.73" y2="409.9" stroke="#f23645" stroke-width="1" opacity="0.8"/>
<rect x="427.18" y="398.6" width="3.1" height="10.00" fill="#f23645"/>
<line x1="432.56" y1="396.7" x2="432.56" y2="428.7" stroke="#089981" stroke-width="1" opacity="0.8"/>
<rect x="431.01" y="397.7" width="3.1" height="15.40" fill="#089981"/>
<line x1="436.38" y1="411.8" x2="436.38" y2="432.5" stroke="#089981" stroke-width="1" opacity="0.8"/>
<rect x="434.83" y="412.7" width="3.1" height="18.90" fill="#089981"/>
<line x1="440.20" y1="400.5" x2="440.20" y2="437.2" stroke="#f23645" stroke-width="1" opacity="0.8"/>
<rect x="438.65" y="402.4" width="3.1" height="30.10" fill="#f23645"/>
<line x1="444.03" y1="392" x2="444.03" y2="416.4" stroke="#089981" stroke-width="1" opacity="0.8"/>
<rect x="442.48" y="403.5" width="3.1" height="12.00" fill="#089981"/>
<line x1="447.85" y1="349" x2="447.85" y2="417.4" stroke="#f23645" stroke-width="1" opacity="0.8"/>
<rect x="446.30" y="350.5" width="3.1" height="66.90" fill="#f23645"/>
<line x1="451.68" y1="344.3" x2="451.68" y2="362.2" stroke="#089981" stroke-width="1" opacity="0.8"/>
<rect x="450.13" y="347.1" width="3.1" height="3.80" fill="#089981"/>
<line x1="455.50" y1="350.9" x2="455.50" y2="384.4" stroke="#089981" stroke-width="1" opacity="0.8"/>
<rect x="453.95" y="353.2" width="3.1" height="10.90" fill="#089981"/>
<line x1="459.32" y1="357" x2="459.32" y2="388.2" stroke="#089981" stroke-width="1" opacity="0.8"/>
<rect x="457.77" y="362.2" width="3.1" height="16.80" fill="#089981"/>
<line x1="463.15" y1="358.4" x2="463.15" y2="383.5" stroke="#f23645" stroke-width="1" opacity="0.8"/>
<rect x="461.60" y="361.8" width="3.1" height="16.40" fill="#f23645"/>
<line x1="466.97" y1="356" x2="466.97" y2="384.4" stroke="#089981" stroke-width="1" opacity="0.8"/>
<rect x="465.42" y="360" width="3.1" height="17.30" fill="#089981"/>
<line x1="470.80" y1="366.9" x2="470.80" y2="384" stroke="#f23645" stroke-width="1" opacity="0.8"/>
<rect x="469.25" y="375" width="3.1" height="4.20" fill="#f23645"/>
<line x1="474.62" y1="363.2" x2="474.62" y2="381.6" stroke="#f23645" stroke-width="1" opacity="0.8"/>
<rect x="473.07" y="367.9" width="3.1" height="11.30" fill="#f23645"/>
<line x1="478.44" y1="357.5" x2="478.44" y2="379.2" stroke="#089981" stroke-width="1" opacity="0.8"/>
<rect x="476.89" y="368.8" width="3.1" height="6.60" fill="#089981"/>
<line x1="482.27" y1="366" x2="482.27" y2="402.3" stroke="#089981" stroke-width="1" opacity="0.8"/>
<rect x="480.72" y="375.4" width="3.1" height="13.20" fill="#089981"/>
<line x1="486.09" y1="378.8" x2="486.09" y2="402.3" stroke="#089981" stroke-width="1" opacity="0.8"/>
<rect x="484.54" y="389.1" width="3.1" height="4.70" fill="#089981"/>
<line x1="489.92" y1="387.2" x2="489.92" y2="405.1" stroke="#089981" stroke-width="1" opacity="0.8"/>
<rect x="488.37" y="395.7" width="3.1" height="1.50" fill="#089981"/>
<line x1="493.74" y1="390.1" x2="493.74" y2="406.1" stroke="#089981" stroke-width="1" opacity="0.8"/>
<rect x="492.19" y="397.6" width="3.1" height="2.80" fill="#089981"/>
<line x1="497.56" y1="373" x2="497.56" y2="403" stroke="#f23645" stroke-width="1" opacity="0.8"/>
<rect x="496.01" y="376" width="3.1" height="26.30" fill="#f23645"/>
<line x1="501.39" y1="350.9" x2="501.39" y2="376.3" stroke="#f23645" stroke-width="1" opacity="0.8"/>
<rect x="499.84" y="355.6" width="3.1" height="17.90" fill="#f23645"/>
<line x1="505.21" y1="327.4" x2="505.21" y2="362.2" stroke="#f23645" stroke-width="1" opacity="0.8"/>
<rect x="503.66" y="333.6" width="3.1" height="22.00" fill="#f23645"/>
<line x1="509.04" y1="326.4" x2="509.04" y2="359.4" stroke="#089981" stroke-width="1" opacity="0.8"/>
<rect x="507.49" y="333.6" width="3.1" height="22.60" fill="#089981"/>
<line x1="512.86" y1="351.9" x2="512.86" y2="368.8" stroke="#089981" stroke-width="1" opacity="0.8"/>
<rect x="511.31" y="355" width="3.1" height="11.00" fill="#089981"/>
<line x1="516.68" y1="363" x2="516.68" y2="391" stroke="#089981" stroke-width="1" opacity="0.8"/>
<rect x="515.13" y="365" width="3.1" height="21.30" fill="#089981"/>
<line x1="520.51" y1="362" x2="520.51" y2="403.2" stroke="#f23645" stroke-width="1" opacity="0.8"/>
<rect x="518.96" y="365" width="3.1" height="36.40" fill="#f23645"/>
<line x1="524.33" y1="328" x2="524.33" y2="370.5" stroke="#f23645" stroke-width="1" opacity="0.8"/>
<rect x="522.78" y="329.8" width="3.1" height="39.00" fill="#f23645"/>
<line x1="528.16" y1="327.4" x2="528.16" y2="347.1" stroke="#089981" stroke-width="1" opacity="0.8"/>
<rect x="526.61" y="330.2" width="3.1" height="12.20" fill="#089981"/>
<line x1="531.98" y1="306.7" x2="531.98" y2="348.1" stroke="#f23645" stroke-width="1" opacity="0.8"/>
<rect x="530.43" y="307.6" width="3.1" height="35.80" fill="#f23645"/>
<line x1="535.80" y1="290.6" x2="535.80" y2="375.4" stroke="#089981" stroke-width="1" opacity="0.8"/>
<rect x="534.25" y="309.5" width="3.1" height="54.60" fill="#089981"/>
<line x1="539.63" y1="366.9" x2="539.63" y2="430.3" stroke="#089981" stroke-width="1" opacity="0.8"/>
<rect x="538.08" y="375.6" width="3.1" height="16.10" fill="#089981"/>
<line x1="543.45" y1="375.4" x2="543.45" y2="420.8" stroke="#f23645" stroke-width="1" opacity="0.8"/>
<rect x="541.90" y="389.8" width="3.1" height="4.70" fill="#f23645"/>
<line x1="547.28" y1="381.3" x2="547.28" y2="408.6" stroke="#f23645" stroke-width="1" opacity="0.8"/>
<rect x="545.73" y="387" width="3.1" height="1.80" fill="#f23645"/>
<line x1="551.10" y1="376.3" x2="551.10" y2="421.8" stroke="#089981" stroke-width="1" opacity="0.8"/>
<rect x="549.55" y="386" width="3.1" height="3.80" fill="#089981"/>
<line x1="554.92" y1="366.9" x2="554.92" y2="395.4" stroke="#f23645" stroke-width="1" opacity="0.8"/>
<rect x="553.37" y="385.1" width="3.1" height="4.70" fill="#f23645"/>
<line x1="558.75" y1="361.3" x2="558.75" y2="390.7" stroke="#089981" stroke-width="1" opacity="0.8"/>
<rect x="557.20" y="380.9" width="3.1" height="4.20" fill="#089981"/>
<line x1="562.57" y1="364" x2="562.57" y2="387" stroke="#f23645" stroke-width="1" opacity="0.8"/>
<rect x="561.02" y="366" width="3.1" height="18.10" fill="#f23645"/>
<line x1="566.40" y1="334.9" x2="566.40" y2="368.8" stroke="#f23645" stroke-width="1" opacity="0.8"/>
<rect x="564.85" y="336.8" width="3.1" height="30.10" fill="#f23645"/>
<line x1="570.22" y1="328.3" x2="570.22" y2="353.7" stroke="#089981" stroke-width="1" opacity="0.8"/>
<rect x="568.67" y="338.7" width="3.1" height="3.70" fill="#089981"/>
<line x1="574.04" y1="318.9" x2="574.04" y2="358.4" stroke="#f23645" stroke-width="1" opacity="0.8"/>
<rect x="572.49" y="319.8" width="3.1" height="25.50" fill="#f23645"/>
<line x1="577.87" y1="308.5" x2="577.87" y2="345.3" stroke="#089981" stroke-width="1" opacity="0.8"/>
<rect x="576.32" y="312.3" width="3.1" height="9.40" fill="#089981"/>
<line x1="581.69" y1="315.1" x2="581.69" y2="384" stroke="#089981" stroke-width="1" opacity="0.8"/>
<rect x="580.14" y="324.2" width="3.1" height="55.20" fill="#089981"/>
<line x1="585.52" y1="377.5" x2="585.52" y2="443.4" stroke="#089981" stroke-width="1" opacity="0.8"/>
<rect x="583.97" y="378.5" width="3.1" height="48.90" fill="#089981"/>
<line x1="589.34" y1="409.5" x2="589.34" y2="457.6" stroke="#089981" stroke-width="1" opacity="0.8"/>
<rect x="587.79" y="429.3" width="3.1" height="15.10" fill="#089981"/>
<line x1="593.16" y1="417.1" x2="593.16" y2="447.2" stroke="#089981" stroke-width="1" opacity="0.8"/>
<rect x="591.61" y="445" width="3.1" height="1.80" fill="#089981"/>
<line x1="596.99" y1="417.1" x2="596.99" y2="447.2" stroke="#f23645" stroke-width="1" opacity="0.8"/>
<rect x="595.44" y="426.5" width="3.1" height="19.80" fill="#f23645"/>
<line x1="600.81" y1="419" x2="600.81" y2="457.6" stroke="#089981" stroke-width="1" opacity="0.8"/>
<rect x="599.26" y="429.3" width="3.1" height="2.80" fill="#089981"/>
<line x1="604.64" y1="409.5" x2="604.64" y2="441.6" stroke="#f23645" stroke-width="1" opacity="0.8"/>
<rect x="603.09" y="412.9" width="3.1" height="22.10" fill="#f23645"/>
<line x1="608.46" y1="393.5" x2="608.46" y2="415.2" stroke="#f23645" stroke-width="1" opacity="0.8"/>
<rect x="606.91" y="412.4" width="3.1" height="1.30" fill="#f23645"/>
<line x1="612.28" y1="394.1" x2="612.28" y2="413.3" stroke="#f23645" stroke-width="1" opacity="0.8"/>
<rect x="610.73" y="404.8" width="3.1" height="7.00" fill="#f23645"/>
<line x1="616.11" y1="400.1" x2="616.11" y2="419.3" stroke="#089981" stroke-width="1" opacity="0.8"/>
<rect x="614.56" y="403.9" width="3.1" height="9.00" fill="#089981"/>
<rect x="363" y="286" width="61" height="10" fill="#141823" opacity="0.92"/>
<text x="364.8" y="294.3" font-size="9" fill="#0b9b80" text-anchor="start" textLength="58" lengthAdjust="spacingAndGlyphs" >−0.253 (−0.14%)</text>
<rect x="365.7" y="298.8" width="18" height="13" rx="2.5" fill="#141823" fill-opacity="0.85" stroke="#2f3139" stroke-width="1"/>
<path d="M371.8,303.8 L374.7,306.40000000000003 L377.59999999999997,303.8" fill="none" stroke="#c4c6cc" stroke-width="1.4" stroke-linecap="round" stroke-linejoin="round"/>
<circle cx="399.5" cy="305.2" r="5.6" fill="#5a2ae0" opacity="0.22"/>
<path d="M396.8,303.3 A3.3,3.3 0 0 1 402.7,304.4" fill="none" stroke="#6c30f2" stroke-width="1.4"/>
<path d="M402.2,307.09999999999997 A3.3,3.3 0 0 1 396.3,306.0" fill="none" stroke="#6c30f2" stroke-width="1.4"/>
<path d="M401.3,304.0 L404.3,303.8 L402.9,306.2 Z" fill="#6c30f2"/>
<path d="M397.7,306.4 L394.7,306.59999999999997 L396.1,304.2 Z" fill="#6c30f2"/>
</g>
<circle cx="372.0" cy="274.6" r="3.9" fill="#f0f0f0"/>
<circle cx="371.7" cy="274.90000000000003" r="1.9" fill="#f23645"/>
<circle cx="367.7" cy="278.6" r="4.1" fill="#1e63c8" stroke="#141823" stroke-width="0.8"/>
<circle cx="367.7" cy="278.6" r="2.2" fill="none" stroke="#d7c84a" stroke-width="0.6" stroke-dasharray="0.6 0.8" opacity="0.8"/>
<text x="379.4" y="281.3" font-size="10.4" fill="#d1d4dc" text-anchor="start" textLength="49.6" lengthAdjust="spacingAndGlyphs" >ユーロ／円</text>
<text x="433.7" y="280.7" font-size="10" fill="#d1d4dc" text-anchor="middle" >・</text>
<text x="437.3" y="281.3" font-size="10.4" fill="#d1d4dc" text-anchor="start" textLength="15.5" lengthAdjust="spacingAndGlyphs" >1日</text>
<text x="456.90000000000003" y="281.0" font-size="10" fill="#d1d4dc" text-anchor="middle" >・</text>
<text x="461.1" y="281.3" font-size="10.4" fill="#d1d4dc" text-anchor="start" textLength="31.5" lengthAdjust="spacingAndGlyphs" >OANDA</text>
<circle cx="503.5" cy="277.20000000000005" r="5.6" fill="#15393a"/>
<circle cx="503.5" cy="277.20000000000005" r="2.7" fill="#0ca283"/>
<text x="675.5" y="292.0" font-size="9" fill="#b2b5be" text-anchor="middle" textLength="26.5" lengthAdjust="spacingAndGlyphs" >187.000</text>
<text x="675.5" y="318.2" font-size="9" fill="#b2b5be" text-anchor="middle" textLength="26.5" lengthAdjust="spacingAndGlyphs" >186.000</text>
<text x="675.5" y="345.59999999999997" font-size="9" fill="#b2b5be" text-anchor="middle" textLength="26.5" lengthAdjust="spacingAndGlyphs" >185.000</text>
<text x="675.5" y="373.2" font-size="9" fill="#b2b5be" text-anchor="middle" textLength="26.5" lengthAdjust="spacingAndGlyphs" >184.000</text>
<text x="675.5" y="400.7" font-size="9" fill="#b2b5be" text-anchor="middle" textLength="26.5" lengthAdjust="spacingAndGlyphs" >183.000</text>
<text x="675.5" y="428.2" font-size="9" fill="#b2b5be" text-anchor="middle" textLength="26.5" lengthAdjust="spacingAndGlyphs" >182.000</text>
<text x="675.5" y="456.4" font-size="9" fill="#b2b5be" text-anchor="middle" textLength="26.5" lengthAdjust="spacingAndGlyphs" >181.000</text>
<text x="675.5" y="478.2" font-size="9" fill="#b2b5be" text-anchor="middle" textLength="26.5" lengthAdjust="spacingAndGlyphs" >180.200</text>
<text x="675.5" y="501.2" font-size="9" fill="#b2b5be" text-anchor="middle" textLength="26.5" lengthAdjust="spacingAndGlyphs" >179.400</text>
<rect x="657.2" y="302.2" width="35.299999999999955" height="10.100000000000023" fill="#f23645"/>
<text x="662.8000000000001" y="310.55" font-size="9" fill="#ffffff" text-anchor="start" textLength="26" lengthAdjust="spacingAndGlyphs" stroke="#ffffff" stroke-width="0.18">186.294</text>
<rect x="657.2" y="363.6" width="35.299999999999955" height="10.799999999999955" fill="#2962ff"/>
<text x="662.8000000000001" y="372.3" font-size="9" fill="#ffffff" text-anchor="start" textLength="26" lengthAdjust="spacingAndGlyphs" stroke="#ffffff" stroke-width="0.18">183.229</text>
<rect x="657.2" y="374.4" width="35.299999999999955" height="10.900000000000034" fill="#ffeb3b"/>
<text x="662.8000000000001" y="383.15000000000003" font-size="9" fill="#131722" text-anchor="start" textLength="26" lengthAdjust="spacingAndGlyphs" stroke="#131722" stroke-width="0.18">183.162</text>
<rect x="657.2" y="385.3" width="35.299999999999955" height="10.899999999999977" fill="#2962ff"/>
<text x="662.8000000000001" y="394.05" font-size="9" fill="#ffffff" text-anchor="start" textLength="26" lengthAdjust="spacingAndGlyphs" stroke="#ffffff" stroke-width="0.18">182.829</text>
<rect x="657.2" y="396.2" width="35.299999999999955" height="11.0" fill="#f23645"/>
<text x="662.8000000000001" y="405.0" font-size="9" fill="#ffffff" text-anchor="start" textLength="26" lengthAdjust="spacingAndGlyphs" stroke="#ffffff" stroke-width="0.18">182.689</text>
<rect x="657.2" y="427" width="35.299999999999955" height="11" fill="#ffeb3b"/>
<text x="662.8000000000001" y="435.8" font-size="9" fill="#131722" text-anchor="start" textLength="26" lengthAdjust="spacingAndGlyphs" stroke="#131722" stroke-width="0.18">182.223</text>
<rect x="657.2" y="438" width="35.299999999999955" height="11" fill="#f23645"/>
<text x="662.8000000000001" y="446.8" font-size="9" fill="#ffffff" text-anchor="start" textLength="26" lengthAdjust="spacingAndGlyphs" stroke="#ffffff" stroke-width="0.18">181.799</text>
<rect x="657.2" y="407.2" width="37.5" height="19.80000000000001" fill="#089981"/>
<text x="662.8000000000001" y="415.8" font-size="9" fill="#ffffff" text-anchor="start" textLength="26" lengthAdjust="spacingAndGlyphs" stroke="#ffffff" stroke-width="0.18">182.461</text>
<text x="662.4000000000001" y="424.6" font-size="9" fill="#ffffff" fill-opacity="0.82" textLength="29.6" lengthAdjust="spacingAndGlyphs">09:40:54</text>
<rect x="657" y="266.5" width="40" height="21.9" fill="#141823"/>
<rect x="659.7" y="270.2" width="34.799999999999955" height="14.400000000000034" rx="3" fill="#0b0b0c" stroke="#34363d" stroke-width="1"/>
<text x="660.8000000000001" y="280.4" font-size="9" fill="#d1d4dc" text-anchor="start" textLength="12.6" lengthAdjust="spacingAndGlyphs" >JPY</text>
<path d="M689.2,276.59999999999997 L691.1,278.5 L693.0,276.59999999999997" fill="none" stroke="#d1d4dc" stroke-width="1.2"/>
<text x="394" y="524.4" font-size="9" fill="#b2b5be" text-anchor="middle" >12月</text>
<text x="478.2" y="524.4" font-size="9" fill="#b2b5be" text-anchor="middle" textLength="17.2" lengthAdjust="spacingAndGlyphs" >2026</text>
<text x="558.4" y="524.4" font-size="9" fill="#b2b5be" text-anchor="middle" >2月</text>
<text x="635.2" y="524.4" font-size="9" fill="#b2b5be" text-anchor="middle" >3月</text>
<clipPath id="c6"><rect x="699" y="266.5" width="287" height="244.5"/></clipPath>
<g clip-path="url(#c6)">
<line x1="699" y1="272.3" x2="986" y2="272.3" stroke="#1e2230" stroke-width="1" opacity="1"/>
<line x1="699" y1="299.8" x2="986" y2="299.8" stroke="#1e2230" stroke-width="1" opacity="1"/>
<line x1="699" y1="327.3" x2="986" y2="327.3" stroke="#1e2230" stroke-width="1" opacity="1"/>
<line x1="699" y1="354.5" x2="986" y2="354.5" stroke="#1e2230" stroke-width="1" opacity="1"/>
<line x1="699" y1="382.7" x2="986" y2="382.7" stroke="#1e2230" stroke-width="1" opacity="1"/>
<line x1="699" y1="404.8" x2="986" y2="404.8" stroke="#1e2230" stroke-width="1" opacity="1"/>
<line x1="699" y1="426.5" x2="986" y2="426.5" stroke="#1e2230" stroke-width="1" opacity="1"/>
<line x1="699" y1="448.6" x2="986" y2="448.6" stroke="#1e2230" stroke-width="1" opacity="1"/>
<line x1="699" y1="470.8" x2="986" y2="470.8" stroke="#1e2230" stroke-width="1" opacity="1"/>
<line x1="699" y1="493" x2="986" y2="493" stroke="#1e2230" stroke-width="1" opacity="1"/>
<line x1="705" y1="266.5" x2="705" y2="511" stroke="#1e2230" stroke-width="1" opacity="1"/>
<line x1="751.4" y1="266.5" x2="751.4" y2="511" stroke="#1e2230" stroke-width="1" opacity="1"/>
<line x1="797.1" y1="266.5" x2="797.1" y2="511" stroke="#1e2230" stroke-width="1" opacity="1"/>
<line x1="843.4" y1="266.5" x2="843.4" y2="511" stroke="#1e2230" stroke-width="1" opacity="1"/>
<line x1="888.8" y1="266.5" x2="888.8" y2="511" stroke="#1e2230" stroke-width="1" opacity="1"/>
<line x1="934.6" y1="266.5" x2="934.6" y2="511" stroke="#1e2230" stroke-width="1" opacity="1"/>
<line x1="980.5" y1="266.5" x2="980.5" y2="511" stroke="#1e2230" stroke-width="1" opacity="1"/>
<rect x="699" y="282.55" width="287" height="1.5" fill="#2962ff" opacity="0.5"/>
<rect x="699" y="359.75" width="287" height="1.5" fill="#f23645" opacity="0.5"/>
<path d="M699.00,444.40 C700.57,442.67 705.27,437.62 708.40,434.00 C711.53,430.38 715.28,426.62 717.80,422.70 C720.32,418.78 721.30,414.10 723.50,410.50 C725.70,406.90 728.50,404.23 731.00,401.10 C733.50,397.97 735.98,395.00 738.50,391.70 C741.02,388.40 744.22,384.02 746.10,381.30 C747.98,378.58 747.92,378.90 749.80,375.40 C751.68,371.90 754.57,364.53 757.40,360.30 C760.23,356.07 763.35,352.67 766.80,350.00 C770.25,347.33 774.65,345.72 778.10,344.30 C781.55,342.88 784.98,341.97 787.50,341.50 C790.02,341.03 791.28,341.00 793.20,341.50 C795.12,342.00 797.45,343.72 799.00,344.50 C800.55,345.28 800.33,345.60 802.50,346.20 C804.67,346.80 809.17,348.25 812.00,348.10 C814.83,347.95 817.00,346.55 819.50,345.30 C822.00,344.05 824.33,341.48 827.00,340.60 C829.67,339.72 832.98,339.53 835.50,340.00 C838.02,340.47 839.75,342.22 842.10,343.40 C844.45,344.58 847.10,346.17 849.60,347.10 C852.10,348.03 854.58,348.43 857.10,349.00 C859.62,349.57 862.50,350.33 864.70,350.50 C866.90,350.67 868.10,350.40 870.30,350.00 C872.50,349.60 875.38,347.93 877.90,348.10 C880.42,348.27 883.05,349.58 885.40,351.00 C887.75,352.42 890.38,354.77 892.00,356.60 C893.62,358.43 893.33,358.90 895.10,362.00 C896.87,365.10 900.10,371.27 902.60,375.20 C905.10,379.13 907.90,383.08 910.10,385.60 C912.30,388.12 913.60,389.05 915.80,390.30 C918.00,391.55 920.80,392.00 923.30,393.10 C925.80,394.20 928.60,395.48 930.80,396.90 C933.00,398.32 934.62,399.72 936.50,401.60 C938.38,403.48 940.53,405.85 942.10,408.20 C943.67,410.55 945.27,414.45 945.90,415.70" fill="none" stroke="#2646b8" stroke-width="1.1" opacity="1" stroke-linejoin="round"/>
<rect x="703" y="286" width="62" height="10" fill="#141823" opacity="0.92"/>
<text x="704.8" y="294.3" font-size="9" fill="#0b9b80" text-anchor="start" textLength="58" lengthAdjust="spacingAndGlyphs" >−0.070 (−0.04%)</text>
<rect x="705.7" y="298.8" width="18" height="13" rx="2.5" fill="#141823" fill-opacity="0.85" stroke="#2f3139" stroke-width="1"/>
<path d="M711.8000000000001,303.8 L714.7,306.40000000000003 L717.6,303.8" fill="none" stroke="#c4c6cc" stroke-width="1.4" stroke-linecap="round" stroke-linejoin="round"/>
<circle cx="739.8" cy="305" r="5.6" fill="#5a2ae0" opacity="0.22"/>
<path d="M737.0999999999999,303.1 A3.3,3.3 0 0 1 743.0,304.2" fill="none" stroke="#6c30f2" stroke-width="1.4"/>
<path d="M742.5,306.9 A3.3,3.3 0 0 1 736.5999999999999,305.8" fill="none" stroke="#6c30f2" stroke-width="1.4"/>
<path d="M741.5999999999999,303.8 L744.5999999999999,303.6 L743.1999999999999,306.0 Z" fill="#6c30f2"/>
<path d="M738.0,306.2 L735.0,306.4 L736.4,304.0 Z" fill="#6c30f2"/>
<line x1="699" y1="292.4" x2="831" y2="264.8" stroke="#cfd0d4" stroke-width="1"/>
<line x1="699" y1="338.9" x2="934.9" y2="289.5" stroke="#cfd0d4" stroke-width="1"/>
<line x1="701.30" y1="370" x2="701.30" y2="408.6" stroke="#f23645" stroke-width="1" opacity="0.8"/>
<rect x="699.75" y="378" width="3.1" height="7.00" fill="#f23645"/>
<line x1="705.13" y1="351.9" x2="705.13" y2="387" stroke="#f23645" stroke-width="1" opacity="0.8"/>
<rect x="703.58" y="373.6" width="3.1" height="11.40" fill="#f23645"/>
<line x1="708.96" y1="342.4" x2="708.96" y2="381.3" stroke="#f23645" stroke-width="1" opacity="0.8"/>
<rect x="707.41" y="361.8" width="3.1" height="13.20" fill="#f23645"/>
<line x1="712.79" y1="328.3" x2="712.79" y2="373.5" stroke="#f23645" stroke-width="1" opacity="0.8"/>
<rect x="711.24" y="333" width="3.1" height="28.30" fill="#f23645"/>
<line x1="716.62" y1="328.3" x2="716.62" y2="358.4" stroke="#089981" stroke-width="1" opacity="0.8"/>
<rect x="715.07" y="333.6" width="3.1" height="4.10" fill="#089981"/>
<line x1="720.45" y1="307.6" x2="720.45" y2="343.4" stroke="#f23645" stroke-width="1" opacity="0.8"/>
<rect x="718.90" y="311.7" width="3.1" height="28.90" fill="#f23645"/>
<line x1="724.28" y1="304.8" x2="724.28" y2="332.1" stroke="#089981" stroke-width="1" opacity="0.8"/>
<rect x="722.73" y="312.3" width="3.1" height="5.10" fill="#089981"/>
<line x1="728.11" y1="313.2" x2="728.11" y2="365" stroke="#089981" stroke-width="1" opacity="0.8"/>
<rect x="726.56" y="317" width="3.1" height="47.10" fill="#089981"/>
<line x1="731.94" y1="322.7" x2="731.94" y2="379.4" stroke="#f23645" stroke-width="1" opacity="0.8"/>
<rect x="730.39" y="324.2" width="3.1" height="39.00" fill="#f23645"/>
<line x1="735.77" y1="314.2" x2="735.77" y2="357.5" stroke="#089981" stroke-width="1" opacity="0.8"/>
<rect x="734.22" y="323.6" width="3.1" height="33.00" fill="#089981"/>
<line x1="739.60" y1="344.3" x2="739.60" y2="367.9" stroke="#089981" stroke-width="1" opacity="0.8"/>
<rect x="738.05" y="358.4" width="3.1" height="8.00" fill="#089981"/>
<line x1="743.43" y1="348.1" x2="743.43" y2="364.1" stroke="#f23645" stroke-width="1" opacity="0.8"/>
<rect x="741.88" y="354.7" width="3.1" height="9.00" fill="#f23645"/>
<line x1="747.26" y1="354" x2="747.26" y2="396.4" stroke="#089981" stroke-width="1" opacity="0.8"/>
<rect x="745.71" y="354.7" width="3.1" height="27.00" fill="#089981"/>
<line x1="751.09" y1="330.2" x2="751.09" y2="389.8" stroke="#f23645" stroke-width="1" opacity="0.8"/>
<rect x="749.54" y="336.8" width="3.1" height="46.40" fill="#f23645"/>
<line x1="754.92" y1="305.7" x2="754.92" y2="338.7" stroke="#f23645" stroke-width="1" opacity="0.8"/>
<rect x="753.37" y="317.4" width="3.1" height="20.00" fill="#f23645"/>
<line x1="758.75" y1="314.2" x2="758.75" y2="350.9" stroke="#089981" stroke-width="1" opacity="0.8"/>
<rect x="757.20" y="318.9" width="3.1" height="31.10" fill="#089981"/>
<line x1="762.58" y1="328.3" x2="762.58" y2="360.3" stroke="#f23645" stroke-width="1" opacity="0.8"/>
<rect x="761.03" y="350.5" width="3.1" height="3.20" fill="#f23645"/>
<line x1="766.41" y1="313.2" x2="766.41" y2="366" stroke="#f23645" stroke-width="1" opacity="0.8"/>
<rect x="764.86" y="318" width="3.1" height="32.00" fill="#f23645"/>
<line x1="770.24" y1="309.5" x2="770.24" y2="338.7" stroke="#089981" stroke-width="1" opacity="0.8"/>
<rect x="768.69" y="318.9" width="3.1" height="16.00" fill="#089981"/>
<line x1="774.07" y1="328.3" x2="774.07" y2="361.3" stroke="#089981" stroke-width="1" opacity="0.8"/>
<rect x="772.52" y="334" width="3.1" height="17.90" fill="#089981"/>
<line x1="777.90" y1="340" x2="777.90" y2="361" stroke="#f23645" stroke-width="1" opacity="0.8"/>
<rect x="776.35" y="344.3" width="3.1" height="7.60" fill="#f23645"/>
<line x1="781.73" y1="339.6" x2="781.73" y2="360.3" stroke="#089981" stroke-width="1" opacity="0.8"/>
<rect x="780.18" y="342.4" width="3.1" height="13.20" fill="#089981"/>
<line x1="785.56" y1="322.7" x2="785.56" y2="360.3" stroke="#f23645" stroke-width="1" opacity="0.8"/>
<rect x="784.01" y="323.6" width="3.1" height="31.10" fill="#f23645"/>
<line x1="789.39" y1="313.2" x2="789.39" y2="335.8" stroke="#089981" stroke-width="1" opacity="0.8"/>
<rect x="787.84" y="324.9" width="3.1" height="9.10" fill="#089981"/>
<line x1="793.22" y1="328.3" x2="793.22" y2="344.3" stroke="#089981" stroke-width="1" opacity="0.8"/>
<rect x="791.67" y="334.3" width="3.1" height="3.40" fill="#089981"/>
<line x1="797.05" y1="315.1" x2="797.05" y2="366.9" stroke="#089981" stroke-width="1" opacity="0.8"/>
<rect x="795.50" y="335.8" width="3.1" height="30.20" fill="#089981"/>
<line x1="800.88" y1="349" x2="800.88" y2="378.5" stroke="#089981" stroke-width="1" opacity="0.8"/>
<rect x="799.33" y="365.6" width="3.1" height="8.20" fill="#089981"/>
<line x1="804.71" y1="354.7" x2="804.71" y2="379.4" stroke="#f23645" stroke-width="1" opacity="0.8"/>
<rect x="803.16" y="360.3" width="3.1" height="14.00" fill="#f23645"/>
<line x1="808.54" y1="353.7" x2="808.54" y2="373.5" stroke="#089981" stroke-width="1" opacity="0.8"/>
<rect x="806.99" y="360" width="3.1" height="3.70" fill="#089981"/>
<line x1="812.37" y1="355.6" x2="812.37" y2="373.5" stroke="#f23645" stroke-width="1" opacity="0.8"/>
<rect x="810.82" y="361.3" width="3.1" height="1.00" fill="#f23645"/>
<line x1="816.20" y1="347.1" x2="816.20" y2="367.9" stroke="#f23645" stroke-width="1" opacity="0.8"/>
<rect x="814.65" y="348.1" width="3.1" height="14.10" fill="#f23645"/>
<line x1="820.03" y1="315.1" x2="820.03" y2="349" stroke="#f23645" stroke-width="1" opacity="0.8"/>
<rect x="818.48" y="316.1" width="3.1" height="32.00" fill="#f23645"/>
<line x1="823.86" y1="310.4" x2="823.86" y2="335.8" stroke="#f23645" stroke-width="1" opacity="0.8"/>
<rect x="822.31" y="311.4" width="3.1" height="8.40" fill="#f23645"/>
<line x1="827.69" y1="294.4" x2="827.69" y2="315.1" stroke="#f23645" stroke-width="1" opacity="0.8"/>
<rect x="826.14" y="295.4" width="3.1" height="14.50" fill="#f23645"/>
<line x1="831.52" y1="290.6" x2="831.52" y2="321.7" stroke="#089981" stroke-width="1" opacity="0.8"/>
<rect x="829.97" y="296.3" width="3.1" height="24.50" fill="#089981"/>
<line x1="835.35" y1="316.1" x2="835.35" y2="337.7" stroke="#089981" stroke-width="1" opacity="0.8"/>
<rect x="833.80" y="321.7" width="3.1" height="10.40" fill="#089981"/>
<line x1="839.18" y1="323.6" x2="839.18" y2="359.4" stroke="#089981" stroke-width="1" opacity="0.8"/>
<rect x="837.63" y="330.6" width="3.1" height="27.80" fill="#089981"/>
<line x1="843.01" y1="346.2" x2="843.01" y2="396" stroke="#089981" stroke-width="1" opacity="0.8"/>
<rect x="841.46" y="360.3" width="3.1" height="34.20" fill="#089981"/>
<line x1="846.84" y1="379.4" x2="846.84" y2="403.9" stroke="#f23645" stroke-width="1" opacity="0.8"/>
<rect x="845.29" y="382.2" width="3.1" height="11.90" fill="#f23645"/>
<line x1="850.67" y1="362.2" x2="850.67" y2="403" stroke="#f23645" stroke-width="1" opacity="0.8"/>
<rect x="849.12" y="371.9" width="3.1" height="10.90" fill="#f23645"/>
<line x1="854.50" y1="360.3" x2="854.50" y2="381.3" stroke="#089981" stroke-width="1" opacity="0.8"/>
<rect x="852.95" y="371" width="3.1" height="6.40" fill="#089981"/>
<line x1="858.33" y1="338.7" x2="858.33" y2="378.2" stroke="#f23645" stroke-width="1" opacity="0.8"/>
<rect x="856.78" y="349" width="3.1" height="28.60" fill="#f23645"/>
<line x1="862.16" y1="345.3" x2="862.16" y2="381.3" stroke="#089981" stroke-width="1" opacity="0.8"/>
<rect x="860.61" y="347.1" width="3.1" height="13.20" fill="#089981"/>
<line x1="865.99" y1="324.5" x2="865.99" y2="361.3" stroke="#f23645" stroke-width="1" opacity="0.8"/>
<rect x="864.44" y="333" width="3.1" height="27.30" fill="#f23645"/>
<line x1="869.82" y1="328.3" x2="869.82" y2="343.4" stroke="#089981" stroke-width="1" opacity="0.8"/>
<rect x="868.27" y="333" width="3.1" height="6.60" fill="#089981"/>
<line x1="873.65" y1="334" x2="873.65" y2="343.4" stroke="#f23645" stroke-width="1" opacity="0.8"/>
<rect x="872.10" y="337.4" width="3.1" height="3.20" fill="#f23645"/>
<line x1="877.48" y1="334.9" x2="877.48" y2="361.3" stroke="#089981" stroke-width="1" opacity="0.8"/>
<rect x="875.93" y="336.8" width="3.1" height="23.50" fill="#089981"/>
<line x1="881.31" y1="356.4" x2="881.31" y2="381.8" stroke="#089981" stroke-width="1" opacity="0.8"/>
<rect x="879.76" y="360" width="3.1" height="12.80" fill="#089981"/>
<line x1="885.14" y1="363.9" x2="885.14" y2="392.6" stroke="#089981" stroke-width="1" opacity="0.8"/>
<rect x="883.59" y="370.6" width="3.1" height="20.40" fill="#089981"/>
<line x1="888.97" y1="386.5" x2="888.97" y2="420" stroke="#089981" stroke-width="1" opacity="0.8"/>
<rect x="887.42" y="391.4" width="3.1" height="27.50" fill="#089981"/>
<line x1="892.80" y1="412.2" x2="892.80" y2="435.9" stroke="#089981" stroke-width="1" opacity="0.8"/>
<rect x="891.25" y="418" width="3.1" height="8.40" fill="#089981"/>
<line x1="896.63" y1="403.8" x2="896.63" y2="434.8" stroke="#f23645" stroke-width="1" opacity="0.8"/>
<rect x="895.08" y="414.2" width="3.1" height="12.20" fill="#f23645"/>
<line x1="900.46" y1="409.8" x2="900.46" y2="425" stroke="#089981" stroke-width="1" opacity="0.8"/>
<rect x="898.91" y="410.5" width="3.1" height="14.40" fill="#089981"/>
<line x1="904.29" y1="418.8" x2="904.29" y2="435.8" stroke="#089981" stroke-width="1" opacity="0.8"/>
<rect x="902.74" y="424.7" width="3.1" height="8.30" fill="#089981"/>
<line x1="908.12" y1="425.4" x2="908.12" y2="443.3" stroke="#089981" stroke-width="1" opacity="0.8"/>
<rect x="906.57" y="432.4" width="3.1" height="4.30" fill="#089981"/>
<line x1="911.95" y1="433" x2="911.95" y2="461.2" stroke="#089981" stroke-width="1" opacity="0.8"/>
<rect x="910.40" y="436.2" width="3.1" height="9.00" fill="#089981"/>
<line x1="915.78" y1="434.8" x2="915.78" y2="453.7" stroke="#f23645" stroke-width="1" opacity="0.8"/>
<rect x="914.23" y="442.4" width="3.1" height="2.80" fill="#f23645"/>
<line x1="919.61" y1="413" x2="919.61" y2="444.3" stroke="#f23645" stroke-width="1" opacity="0.8"/>
<rect x="918.06" y="418.5" width="3.1" height="25.20" fill="#f23645"/>
<line x1="923.44" y1="410.2" x2="923.44" y2="424.4" stroke="#f23645" stroke-width="1" opacity="0.8"/>
<rect x="921.89" y="414.2" width="3.1" height="4.60" fill="#f23645"/>
<line x1="927.27" y1="403.8" x2="927.27" y2="430" stroke="#089981" stroke-width="1" opacity="0.8"/>
<rect x="925.72" y="414.2" width="3.1" height="1.30" fill="#089981"/>
<line x1="931.10" y1="411.5" x2="931.10" y2="435.8" stroke="#f23645" stroke-width="1" opacity="0.8"/>
<rect x="929.55" y="412.8" width="3.1" height="2.70" fill="#f23645"/>
<line x1="934.93" y1="386.5" x2="934.93" y2="427.3" stroke="#089981" stroke-width="1" opacity="0.8"/>
<rect x="933.38" y="409.5" width="3.1" height="4.20" fill="#089981"/>
<line x1="938.76" y1="400.6" x2="938.76" y2="414.7" stroke="#f23645" stroke-width="1" opacity="0.8"/>
<rect x="937.21" y="409.9" width="3.1" height="3.80" fill="#f23645"/>
<line x1="942.59" y1="401.5" x2="942.59" y2="451.8" stroke="#089981" stroke-width="1" opacity="0.8"/>
<rect x="941.04" y="409.9" width="3.1" height="39.10" fill="#089981"/>
<line x1="946.42" y1="444.3" x2="946.42" y2="492.3" stroke="#089981" stroke-width="1" opacity="0.8"/>
<rect x="944.87" y="447.1" width="3.1" height="40.50" fill="#089981"/>
</g>
<circle cx="713.0" cy="274.6" r="3.9" fill="#f0f0f0"/>
<circle cx="712.7" cy="274.90000000000003" r="1.9" fill="#f23645"/>
<circle cx="708.7" cy="278.6" r="4.1" fill="#1e63c8" stroke="#141823" stroke-width="0.8"/>
<circle cx="708.7" cy="278.6" r="2.2" fill="none" stroke="#d7c84a" stroke-width="0.6" stroke-dasharray="0.6 0.8" opacity="0.8"/>
<text x="719.7" y="281.3" font-size="10.4" fill="#d1d4dc" text-anchor="start" textLength="49.6" lengthAdjust="spacingAndGlyphs" >ユーロ／円</text>
<text x="774.0" y="280.7" font-size="10" fill="#d1d4dc" text-anchor="middle" >・</text>
<text x="777.6" y="281.3" font-size="10.4" fill="#d1d4dc" text-anchor="start" textLength="5.6" lengthAdjust="spacingAndGlyphs" >5</text>
<text x="787.3000000000001" y="281.0" font-size="10" fill="#d1d4dc" text-anchor="middle" >・</text>
<text x="791.5000000000001" y="281.3" font-size="10.4" fill="#d1d4dc" text-anchor="start" textLength="31.5" lengthAdjust="spacingAndGlyphs" >OANDA</text>
<circle cx="833.4" cy="277.20000000000005" r="5.6" fill="#15393a"/>
<circle cx="833.4" cy="277.20000000000005" r="2.7" fill="#0ca283"/>
<text x="1005.8" y="302.0" font-size="9" fill="#b2b5be" text-anchor="middle" textLength="26.5" lengthAdjust="spacingAndGlyphs" >182.800</text>
<text x="1005.8" y="329.2" font-size="9" fill="#b2b5be" text-anchor="middle" textLength="26.5" lengthAdjust="spacingAndGlyphs" >182.750</text>
<text x="1005.8" y="356.2" font-size="9" fill="#b2b5be" text-anchor="middle" textLength="26.5" lengthAdjust="spacingAndGlyphs" >182.700</text>
<text x="1005.8" y="385.3" font-size="9" fill="#b2b5be" text-anchor="middle" textLength="26.5" lengthAdjust="spacingAndGlyphs" >182.650</text>
<text x="1005.8" y="407.0" font-size="9" fill="#b2b5be" text-anchor="middle" textLength="26.5" lengthAdjust="spacingAndGlyphs" >182.610</text>
<text x="1005.8" y="429.0" font-size="9" fill="#b2b5be" text-anchor="middle" textLength="26.5" lengthAdjust="spacingAndGlyphs" >182.570</text>
<text x="1005.8" y="451.09999999999997" font-size="9" fill="#b2b5be" text-anchor="middle" textLength="26.5" lengthAdjust="spacingAndGlyphs" >182.530</text>
<text x="1005.8" y="473.4" font-size="9" fill="#b2b5be" text-anchor="middle" textLength="26.5" lengthAdjust="spacingAndGlyphs" >182.490</text>
<text x="1005.8" y="495.5" font-size="9" fill="#b2b5be" text-anchor="middle" textLength="26.5" lengthAdjust="spacingAndGlyphs" >182.450</text>
<rect x="986.9" y="278" width="35.80000000000007" height="10.600000000000023" fill="#2962ff"/>
<text x="992.5" y="286.6" font-size="9" fill="#ffffff" text-anchor="start" textLength="26" lengthAdjust="spacingAndGlyphs" stroke="#ffffff" stroke-width="0.18">182.829</text>
<rect x="986.9" y="355.6" width="35.80000000000007" height="10.199999999999989" fill="#f23645"/>
<text x="992.5" y="364.00000000000006" font-size="9" fill="#ffffff" text-anchor="start" textLength="26" lengthAdjust="spacingAndGlyphs" stroke="#ffffff" stroke-width="0.18">182.689</text>
<rect x="986.9" y="411.5" width="35.80000000000007" height="10.100000000000023" fill="#2962ff"/>
<text x="992.5" y="419.85" font-size="9" fill="#ffffff" text-anchor="start" textLength="26" lengthAdjust="spacingAndGlyphs" stroke="#ffffff" stroke-width="0.18">182.589</text>
<rect x="986.9" y="482.1" width="35.80000000000007" height="19.399999999999977" fill="#089981"/>
<text x="992.5" y="490.70000000000005" font-size="9" fill="#ffffff" text-anchor="start" textLength="26" lengthAdjust="spacingAndGlyphs" stroke="#ffffff" stroke-width="0.18">182.461</text>
<text x="992.1" y="499.50000000000006" font-size="9" fill="#ffffff" fill-opacity="0.82" textLength="17.8" lengthAdjust="spacingAndGlyphs">00:54</text>
<rect x="986" y="266.5" width="38" height="21.3" fill="#141823"/>
<rect x="989.4" y="270.3" width="32.80000000000007" height="14.899999999999977" rx="3" fill="#0b0b0c" stroke="#34363d" stroke-width="1"/>
<text x="990.5" y="280.75" font-size="9" fill="#d1d4dc" text-anchor="start" textLength="12.6" lengthAdjust="spacingAndGlyphs" >JPY</text>
<path d="M1016.9000000000001,276.95 L1018.8000000000001,278.85 L1020.7,276.95" fill="none" stroke="#d1d4dc" stroke-width="1.2"/>
<clipPath id="t6"><rect x="699" y="512" width="287" height="18"/></clipPath>
<g clip-path="url(#t6)">
<text x="704.8" y="524.3" font-size="9" fill="#b2b5be" text-anchor="middle" textLength="19.6" lengthAdjust="spacingAndGlyphs" >16:00</text>
<text x="751.4" y="524.3" font-size="9" fill="#b2b5be" text-anchor="middle" textLength="19.6" lengthAdjust="spacingAndGlyphs" >17:00</text>
<text x="797.1" y="524.3" font-size="9" fill="#b2b5be" text-anchor="middle" textLength="19.6" lengthAdjust="spacingAndGlyphs" >18:00</text>
<text x="843.4" y="524.3" font-size="9" fill="#b2b5be" text-anchor="middle" textLength="19.6" lengthAdjust="spacingAndGlyphs" >19:00</text>
<text x="888.8" y="524.3" font-size="9" fill="#b2b5be" text-anchor="middle" textLength="19.6" lengthAdjust="spacingAndGlyphs" >20:00</text>
<text x="934.6" y="524.3" font-size="9" fill="#b2b5be" text-anchor="middle" textLength="19.6" lengthAdjust="spacingAndGlyphs" >21:00</text>
<text x="980.5" y="524.3" font-size="9" fill="#b2b5be" text-anchor="middle" textLength="19.6" lengthAdjust="spacingAndGlyphs" >22:00</text>
</g>
<rect x="358.75" y="1.5" width="338.5" height="263" rx="3" fill="none" stroke="#7d7f85" stroke-width="1.6"/>
</svg>
</body></html>
